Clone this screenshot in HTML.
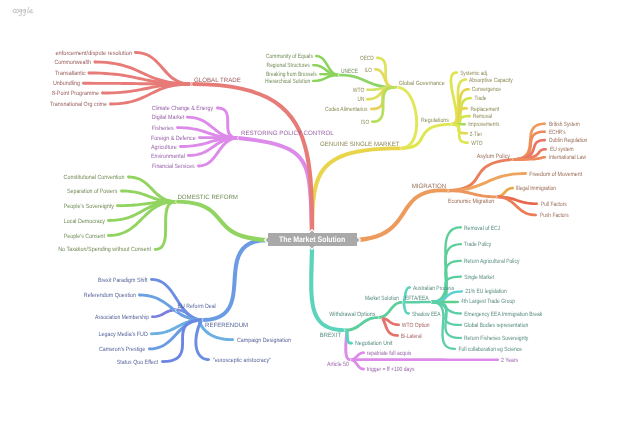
<!DOCTYPE html>
<html><head><meta charset="utf-8"><style>
html,body{margin:0;padding:0;background:#fff;width:640px;height:424px;overflow:hidden}
svg{position:absolute;left:0;top:0;will-change:transform}
text{font-family:"Liberation Sans",sans-serif} g text{text-rendering:geometricPrecision;fill-opacity:0.88}
</style></head><body>
<svg width="640" height="424" viewBox="0 0 640 424">
<path d="M15.6,9.6 C14.6,8.9 13,9.4 13,11 C13,12.6 14.6,13.2 15.8,12.4 M17.6,9.2 C16.2,9.2 15.9,10.6 16,11.6 C16.2,13.2 18.2,13.1 18.5,11.6 C18.8,10.2 18.2,9.2 17.6,9.2 M21.4,9.6 C20.4,9 19,9.6 19.1,10.9 C19.2,12.2 20.8,12.2 21.3,11.2 L21.6,9.4 L21.2,14.6 C21,16.2 19,16.2 18.9,15 M25.2,9.6 C24.2,9 22.8,9.6 22.9,10.9 C23,12.2 24.6,12.2 25.1,11.2 L25.4,9.4 L25,14.6 C24.8,16.2 22.8,16.2 22.7,15 M28.8,7.2 C28.2,9 27.4,11.5 27.6,12.6 C27.8,13.2 28.6,13.1 29.2,12.5 M29.6,11.6 C31,11.6 32.6,10.8 32.2,9.8 C31.8,9 30,9.6 29.8,11.2 C29.6,12.8 31.4,13.4 33,12.4" fill="none" stroke="#b4b4b4" stroke-width="0.75" stroke-linecap="round" stroke-linejoin="round"/>
<path d="M190.0,82.5L186.9,82.3L184.0,81.9L181.4,81.2L179.0,80.3L176.7,79.1L174.7,77.8L172.7,76.4L170.8,74.7L169.0,73.0L167.2,71.1L165.5,69.2L163.8,67.3L162.1,65.3L160.3,63.4L158.5,61.4L156.6,59.6L154.6,57.9L152.4,56.2L150.1,54.8L147.6,53.5L144.9,52.5L142.0,51.7L138.8,51.3L135.4,51.1L135.4,53.9L138.5,54.1L141.4,54.5L144.0,55.2L146.4,56.1L148.7,57.3L150.8,58.6L152.8,60.1L154.6,61.7L156.4,63.5L158.2,65.3L159.9,67.3L161.6,69.2L163.3,71.2L165.0,73.2L166.9,75.1L168.8,76.9L170.8,78.7L172.9,80.3L175.2,81.8L177.8,83.1L180.5,84.1L183.4,84.9L186.6,85.4L190.0,85.5Z" fill="#e67b78"/><circle cx="135.4" cy="52.5" r="1.40" fill="#e67b78"/>
<path d="M190.0,82.5L184.4,82.3L179.2,82.0L174.4,81.5L170.0,80.9L165.9,80.1L162.2,79.1L158.6,78.0L155.3,76.9L152.1,75.7L149.0,74.4L146.0,73.0L143.1,71.7L140.1,70.3L137.0,68.9L133.9,67.6L130.6,66.3L127.2,65.2L123.5,64.1L119.6,63.1L115.4,62.2L110.9,61.5L106.0,61.0L100.7,60.7L94.9,60.6L94.9,63.4L100.5,63.5L105.7,63.8L110.5,64.4L114.9,65.0L119.0,65.9L122.7,66.8L126.3,67.9L129.6,69.1L132.8,70.3L135.9,71.6L138.9,73.0L141.8,74.3L144.8,75.7L147.9,77.1L151.0,78.4L154.3,79.7L157.7,80.9L161.4,82.0L165.3,83.0L169.5,83.9L174.0,84.6L178.9,85.1L184.2,85.4L190.0,85.5Z" fill="#e67b78"/><circle cx="94.9" cy="62.0" r="1.40" fill="#e67b78"/>
<path d="M190.0,82.5L184.0,82.4L178.4,82.2L173.3,82.0L168.6,81.7L164.2,81.3L160.2,80.8L156.4,80.2L152.8,79.7L149.4,79.1L146.1,78.4L142.9,77.7L139.8,77.1L136.6,76.4L133.4,75.7L130.0,75.1L126.6,74.4L123.0,73.8L119.1,73.3L115.0,72.8L110.5,72.4L105.8,72.1L100.6,71.8L95.0,71.6L88.9,71.6L88.9,74.4L94.9,74.5L100.5,74.6L105.6,74.9L110.3,75.2L114.7,75.7L118.7,76.1L122.5,76.7L126.1,77.3L129.5,77.9L132.8,78.6L136.0,79.3L139.1,79.9L142.3,80.6L145.5,81.3L148.8,82.0L152.3,82.6L155.9,83.2L159.8,83.8L163.9,84.3L168.3,84.7L173.1,85.1L178.3,85.3L183.9,85.5L190.0,85.5Z" fill="#e67b78"/><circle cx="88.9" cy="73.0" r="1.40" fill="#e67b78"/>
<path d="M190.0,82.5L183.6,82.5L177.7,82.4L172.3,82.4L167.3,82.4L162.7,82.4L158.4,82.4L154.3,82.3L150.5,82.3L146.9,82.3L143.4,82.2L140.1,82.2L136.7,82.2L133.4,82.1L130.0,82.1L126.5,82.0L122.9,82.0L119.1,82.0L115.1,81.9L110.7,81.9L106.1,81.9L101.1,81.9L95.7,81.9L89.8,81.8L83.4,81.8L83.4,84.7L89.8,84.7L95.7,84.7L101.1,84.7L106.1,84.7L110.7,84.8L115.0,84.8L119.1,84.8L122.9,84.9L126.5,84.9L130.0,85.0L133.3,85.0L136.7,85.1L140.0,85.2L143.4,85.2L146.9,85.3L150.5,85.3L154.3,85.4L158.3,85.4L162.7,85.4L167.3,85.5L172.3,85.5L177.7,85.5L183.6,85.5L190.0,85.5Z" fill="#e67b78"/><circle cx="83.4" cy="83.2" r="1.40" fill="#e67b78"/>
<path d="M190.0,82.5L184.7,82.5L179.9,82.6L175.4,82.9L171.2,83.1L167.4,83.5L163.8,83.9L160.5,84.4L157.3,84.9L154.3,85.4L151.4,85.9L148.6,86.5L145.9,87.1L143.2,87.6L140.4,88.2L137.6,88.7L134.6,89.2L131.5,89.7L128.2,90.2L124.7,90.6L120.9,90.9L116.9,91.2L112.4,91.4L107.6,91.5L102.4,91.6L102.4,94.4L107.7,94.4L112.5,94.2L117.0,94.0L121.2,93.8L125.0,93.4L128.6,93.0L131.9,92.6L135.1,92.1L138.1,91.6L141.0,91.1L143.7,90.5L146.5,89.9L149.2,89.4L152.0,88.8L154.9,88.3L157.8,87.8L160.9,87.3L164.2,86.9L167.7,86.5L171.5,86.2L175.5,85.9L180.0,85.7L184.8,85.6L190.0,85.5Z" fill="#e67b78"/><circle cx="102.4" cy="93.0" r="1.40" fill="#e67b78"/>
<path d="M190.0,82.5L185.2,82.6L180.7,82.9L176.6,83.3L172.8,84.0L169.2,84.8L165.9,85.7L162.9,86.7L160.0,87.8L157.2,89.0L154.6,90.2L152.0,91.4L149.5,92.7L147.1,93.9L144.6,95.2L142.0,96.3L139.3,97.5L136.6,98.5L133.6,99.5L130.5,100.4L127.1,101.1L123.4,101.7L119.4,102.2L115.1,102.5L110.4,102.6L110.4,105.4L115.2,105.3L119.7,105.0L123.8,104.5L127.6,103.9L131.2,103.1L134.4,102.3L137.5,101.2L140.4,100.2L143.2,99.0L145.8,97.8L148.4,96.6L150.9,95.3L153.4,94.1L155.9,92.9L158.4,91.7L161.1,90.6L163.9,89.5L166.8,88.6L170.0,87.7L173.3,87.0L177.0,86.4L181.0,85.9L185.3,85.6L190.0,85.5Z" fill="#e67b78"/><circle cx="110.4" cy="104.0" r="1.40" fill="#e67b78"/>
<path d="M238.0,136.4L235.8,136.3L234.1,135.9L232.8,135.4L231.8,134.6L231.0,133.8L230.4,132.7L229.9,131.4L229.6,130.0L229.3,128.4L229.2,126.7L229.2,124.9L229.2,123.0L229.2,121.1L229.1,119.2L229.0,117.4L228.7,115.5L228.3,113.8L227.7,112.1L226.8,110.5L225.6,109.2L224.1,108.1L222.2,107.2L220.0,106.8L217.4,106.6L217.4,109.4L219.6,109.5L221.3,109.9L222.7,110.5L223.7,111.3L224.5,112.2L225.1,113.3L225.6,114.6L225.9,116.0L226.1,117.6L226.2,119.3L226.2,121.1L226.2,123.0L226.2,124.9L226.3,126.8L226.4,128.6L226.6,130.5L227.0,132.3L227.6,133.9L228.5,135.5L229.7,136.9L231.3,138.0L233.2,138.9L235.4,139.4L238.0,139.6Z" fill="#dc8be9"/><circle cx="217.4" cy="108.0" r="1.40" fill="#dc8be9"/>
<path d="M238.0,136.4L235.1,136.4L232.4,136.1L229.9,135.6L227.7,135.0L225.6,134.3L223.6,133.4L221.8,132.4L220.1,131.4L218.4,130.2L216.8,129.0L215.2,127.7L213.6,126.5L212.0,125.2L210.4,123.9L208.7,122.6L206.9,121.4L205.1,120.2L203.1,119.2L200.9,118.2L198.6,117.4L196.1,116.7L193.4,116.2L190.5,115.9L187.4,115.8L187.4,118.6L190.3,118.7L193.0,119.0L195.5,119.5L197.7,120.1L199.8,120.9L201.8,121.7L203.6,122.7L205.3,123.8L207.0,125.0L208.6,126.2L210.2,127.4L211.8,128.7L213.4,130.0L215.0,131.4L216.7,132.6L218.4,133.9L220.3,135.0L222.3,136.1L224.5,137.1L226.8,137.9L229.3,138.6L231.9,139.1L234.9,139.4L238.0,139.6Z" fill="#dc8be9"/><circle cx="187.4" cy="117.2" r="1.40" fill="#dc8be9"/>
<path d="M238.0,136.4L234.4,136.4L231.1,136.3L228.1,136.0L225.3,135.7L222.7,135.3L220.3,134.9L218.1,134.4L216.0,133.9L213.9,133.3L212.0,132.7L210.1,132.0L208.2,131.4L206.3,130.8L204.3,130.1L202.3,129.5L200.2,128.9L198.0,128.3L195.7,127.8L193.2,127.4L190.5,127.0L187.6,126.6L184.5,126.4L181.1,126.2L177.4,126.2L177.4,129.0L181.0,129.1L184.3,129.2L187.3,129.5L190.1,129.8L192.7,130.2L195.1,130.6L197.3,131.1L199.5,131.7L201.5,132.3L203.4,132.9L205.3,133.5L207.2,134.2L209.1,134.9L211.1,135.5L213.1,136.1L215.2,136.8L217.4,137.3L219.7,137.9L222.2,138.3L224.9,138.7L227.8,139.1L230.9,139.3L234.3,139.5L238.0,139.6Z" fill="#dc8be9"/><circle cx="177.4" cy="127.6" r="1.40" fill="#dc8be9"/>
<path d="M238.0,136.4L235.7,136.5L233.6,136.5L231.6,136.5L229.8,136.4L228.1,136.4L226.6,136.4L225.1,136.4L223.7,136.4L222.4,136.4L221.2,136.4L219.9,136.3L218.7,136.3L217.5,136.3L216.3,136.3L215.0,136.3L213.7,136.3L212.3,136.2L210.9,136.2L209.3,136.2L207.6,136.2L205.8,136.2L203.9,136.2L201.7,136.2L199.4,136.2L199.4,139.0L201.7,139.0L203.8,139.0L205.8,139.0L207.6,139.1L209.3,139.1L210.8,139.1L212.3,139.1L213.7,139.2L215.0,139.2L216.2,139.2L217.5,139.2L218.7,139.3L219.9,139.3L221.1,139.3L222.4,139.4L223.7,139.4L225.1,139.4L226.5,139.4L228.1,139.5L229.8,139.5L231.6,139.5L233.5,139.5L235.7,139.5L238.0,139.6Z" fill="#dc8be9"/><circle cx="199.4" cy="137.6" r="1.40" fill="#dc8be9"/>
<path d="M238.0,136.4L234.5,136.5L231.3,136.6L228.3,136.8L225.6,137.1L223.0,137.5L220.6,137.8L218.4,138.3L216.3,138.7L214.3,139.2L212.4,139.8L210.6,140.3L208.8,140.8L207.0,141.4L205.2,141.9L203.3,142.4L201.4,142.9L199.4,143.3L197.2,143.8L195.0,144.1L192.5,144.5L189.8,144.7L187.0,144.9L183.8,145.1L180.4,145.1L180.4,147.9L183.9,147.9L187.1,147.7L190.1,147.5L192.8,147.3L195.4,147.0L197.8,146.6L200.0,146.2L202.1,145.7L204.1,145.2L206.0,144.7L207.8,144.2L209.6,143.7L211.4,143.1L213.2,142.6L215.1,142.1L217.0,141.7L219.0,141.2L221.2,140.8L223.4,140.5L225.9,140.1L228.6,139.9L231.4,139.7L234.6,139.6L238.0,139.6Z" fill="#dc8be9"/><circle cx="180.4" cy="146.5" r="1.40" fill="#dc8be9"/>
<path d="M238.0,136.4L234.9,136.5L232.1,136.8L229.5,137.2L227.0,137.8L224.8,138.5L222.7,139.3L220.7,140.2L218.9,141.2L217.2,142.3L215.5,143.3L213.9,144.4L212.3,145.5L210.8,146.6L209.3,147.7L207.7,148.7L206.1,149.7L204.4,150.6L202.6,151.4L200.6,152.2L198.6,152.8L196.4,153.4L193.9,153.8L191.3,154.0L188.4,154.1L188.4,156.9L191.5,156.8L194.3,156.6L196.9,156.1L199.3,155.6L201.6,154.9L203.7,154.1L205.6,153.2L207.5,152.2L209.2,151.2L210.9,150.1L212.5,149.0L214.1,148.0L215.6,146.9L217.2,145.8L218.7,144.8L220.4,143.8L222.1,142.9L223.9,142.1L225.8,141.4L227.8,140.8L230.1,140.3L232.5,139.9L235.1,139.6L238.0,139.6Z" fill="#dc8be9"/><circle cx="188.4" cy="155.5" r="1.40" fill="#dc8be9"/>
<path d="M238.0,136.4L235.4,136.6L233.1,137.1L230.9,137.8L228.8,138.7L227.0,139.9L225.3,141.2L223.7,142.7L222.2,144.3L220.8,145.9L219.5,147.6L218.2,149.4L217.0,151.1L215.8,152.9L214.5,154.6L213.3,156.2L212.0,157.8L210.6,159.2L209.2,160.5L207.7,161.7L206.2,162.7L204.5,163.5L202.6,164.1L200.6,164.5L198.4,164.6L198.4,167.4L200.9,167.3L203.3,166.8L205.5,166.1L207.5,165.2L209.4,164.0L211.1,162.7L212.7,161.3L214.2,159.7L215.5,158.1L216.9,156.3L218.2,154.6L219.4,152.9L220.6,151.1L221.9,149.4L223.2,147.8L224.5,146.3L225.8,144.8L227.2,143.5L228.7,142.4L230.3,141.4L232.0,140.6L233.8,140.0L235.8,139.7L238.0,139.6Z" fill="#dc8be9"/><circle cx="198.4" cy="166.0" r="1.40" fill="#dc8be9"/>
<path d="M176.0,200.0L173.3,199.9L170.8,199.6L168.5,199.1L166.4,198.4L164.5,197.5L162.7,196.5L161.0,195.3L159.3,194.1L157.8,192.7L156.2,191.3L154.7,189.8L153.3,188.3L151.8,186.7L150.2,185.2L148.6,183.7L147.0,182.3L145.2,180.9L143.3,179.6L141.3,178.5L139.1,177.5L136.7,176.7L134.1,176.1L131.4,175.7L128.4,175.6L128.4,178.4L131.1,178.5L133.6,178.9L135.9,179.4L138.0,180.1L140.0,181.0L141.8,182.1L143.5,183.2L145.1,184.5L146.7,185.9L148.2,187.3L149.7,188.8L151.1,190.3L152.6,191.9L154.2,193.4L155.7,194.9L157.4,196.4L159.2,197.8L161.1,199.0L163.1,200.2L165.3,201.2L167.7,202.0L170.2,202.6L173.0,203.0L176.0,203.2Z" fill="#92d461"/><circle cx="128.4" cy="177.0" r="1.40" fill="#92d461"/>
<path d="M176.0,200.0L172.8,200.0L169.8,199.9L167.1,199.6L164.6,199.3L162.3,198.9L160.1,198.5L158.1,198.0L156.2,197.4L154.4,196.8L152.7,196.2L150.9,195.6L149.2,194.9L147.5,194.3L145.8,193.6L143.9,193.0L142.1,192.4L140.1,191.8L137.9,191.3L135.7,190.8L133.2,190.4L130.6,190.0L127.8,189.8L124.7,189.6L121.4,189.6L121.4,192.4L124.6,192.5L127.6,192.6L130.3,192.9L132.8,193.2L135.1,193.6L137.3,194.1L139.3,194.6L141.2,195.1L143.0,195.7L144.8,196.4L146.5,197.0L148.2,197.7L149.9,198.3L151.6,199.0L153.4,199.7L155.3,200.3L157.3,200.9L159.4,201.4L161.7,201.9L164.1,202.3L166.8,202.7L169.6,202.9L172.7,203.1L176.0,203.2Z" fill="#92d461"/><circle cx="121.4" cy="191.0" r="1.40" fill="#92d461"/>
<path d="M176.0,200.0L172.5,200.1L169.2,200.1L166.2,200.2L163.4,200.4L160.9,200.5L158.5,200.7L156.2,200.9L154.1,201.2L152.1,201.4L150.2,201.7L148.3,201.9L146.5,202.2L144.7,202.5L142.8,202.7L140.9,203.0L138.9,203.2L136.9,203.4L134.7,203.6L132.3,203.8L129.8,204.0L127.1,204.1L124.1,204.2L120.9,204.3L117.4,204.3L117.4,207.1L120.9,207.1L124.2,207.0L127.2,206.9L130.0,206.8L132.5,206.7L134.9,206.5L137.2,206.3L139.3,206.1L141.3,205.8L143.2,205.6L145.1,205.4L146.9,205.1L148.7,204.9L150.6,204.6L152.5,204.4L154.5,204.2L156.5,203.9L158.7,203.7L161.1,203.6L163.6,203.4L166.3,203.3L169.3,203.2L172.5,203.2L176.0,203.2Z" fill="#92d461"/><circle cx="117.4" cy="205.7" r="1.40" fill="#92d461"/>
<path d="M176.0,200.0L171.9,200.2L168.1,200.4L164.5,200.9L161.3,201.5L158.3,202.3L155.5,203.1L152.8,204.1L150.4,205.1L148.0,206.2L145.8,207.4L143.6,208.6L141.5,209.8L139.4,210.9L137.3,212.1L135.1,213.2L132.8,214.3L130.5,215.3L128.0,216.2L125.4,217.0L122.5,217.7L119.4,218.3L116.0,218.7L112.4,219.0L108.4,219.1L108.4,221.9L112.5,221.8L116.3,221.5L119.8,221.1L123.1,220.5L126.1,219.8L128.9,218.9L131.6,218.0L134.0,216.9L136.4,215.8L138.6,214.7L140.8,213.5L142.9,212.3L145.0,211.2L147.2,210.0L149.3,208.9L151.6,207.9L153.9,206.9L156.4,206.0L159.1,205.2L161.9,204.5L165.0,203.9L168.4,203.5L172.0,203.2L176.0,203.2Z" fill="#92d461"/><circle cx="108.4" cy="220.5" r="1.40" fill="#92d461"/>
<path d="M176.0,200.0L171.8,200.2L167.9,200.8L164.4,201.6L161.1,202.7L158.0,204.0L155.2,205.6L152.5,207.3L150.0,209.2L147.7,211.2L145.4,213.3L143.3,215.4L141.2,217.5L139.0,219.6L136.9,221.7L134.8,223.7L132.5,225.6L130.2,227.4L127.7,229.0L125.1,230.4L122.3,231.7L119.2,232.7L115.9,233.4L112.3,233.9L108.4,234.1L108.4,236.9L112.6,236.7L116.4,236.2L120.0,235.4L123.3,234.3L126.4,233.0L129.2,231.4L131.9,229.7L134.3,227.8L136.7,225.9L138.9,223.8L141.1,221.7L143.2,219.6L145.4,217.5L147.5,215.4L149.7,213.4L151.9,211.6L154.2,209.8L156.7,208.2L159.3,206.8L162.2,205.5L165.2,204.5L168.5,203.8L172.1,203.3L176.0,203.2Z" fill="#92d461"/><circle cx="108.4" cy="235.5" r="1.40" fill="#92d461"/>
<path d="M176.0,200.0L173.3,200.3L170.9,201.2L169.0,202.5L167.4,204.3L166.3,206.3L165.4,208.6L164.9,211.2L164.5,213.8L164.3,216.6L164.2,219.5L164.1,222.5L164.1,225.5L164.1,228.5L164.1,231.4L164.0,234.2L163.8,236.9L163.4,239.3L162.9,241.5L162.2,243.5L161.3,245.0L160.3,246.3L158.9,247.2L157.3,247.8L155.2,248.0L155.2,250.8L157.9,250.5L160.2,249.7L162.2,248.4L163.7,246.7L164.8,244.6L165.7,242.3L166.3,239.8L166.7,237.2L166.9,234.4L167.0,231.5L167.1,228.5L167.1,225.5L167.1,222.5L167.1,219.6L167.3,216.8L167.5,214.2L167.8,211.7L168.4,209.5L169.0,207.6L169.9,206.0L171.0,204.8L172.3,203.9L173.9,203.4L176.0,203.2Z" fill="#92d461"/><circle cx="155.2" cy="249.4" r="1.40" fill="#92d461"/>
<path d="M202.7,318.4L201.2,318.4L199.8,318.3L198.6,318.1L197.4,317.8L196.4,317.5L195.4,317.1L194.5,316.6L193.6,316.1L192.7,315.6L191.9,315.0L191.1,314.4L190.2,313.8L189.4,313.2L188.5,312.6L187.6,311.9L186.6,311.3L185.6,310.8L184.5,310.3L183.3,309.8L182.1,309.4L180.7,309.0L179.3,308.8L177.7,308.6L176.0,308.6L176.0,311.4L177.5,311.5L178.9,311.6L180.1,311.8L181.3,312.1L182.4,312.5L183.3,312.9L184.3,313.3L185.1,313.8L186.0,314.4L186.8,315.0L187.6,315.6L188.5,316.2L189.3,316.8L190.2,317.5L191.1,318.1L192.0,318.7L193.1,319.3L194.2,319.8L195.3,320.3L196.6,320.7L198.0,321.1L199.4,321.3L201.0,321.5L202.7,321.6Z" fill="#7a92e0"/><circle cx="176.0" cy="310.0" r="1.40" fill="#7a92e0"/>
<path d="M176.0,308.6L174.5,308.6L173.1,308.7L171.8,308.9L170.6,309.1L169.5,309.4L168.5,309.7L167.5,310.1L166.6,310.5L165.8,310.9L165.0,311.3L164.2,311.8L163.5,312.2L162.7,312.6L162.0,313.0L161.3,313.4L160.5,313.8L159.7,314.2L158.9,314.5L158.0,314.8L157.1,315.0L156.0,315.2L154.9,315.4L153.7,315.5L152.3,315.5L152.3,318.1L153.8,318.1L155.2,318.0L156.4,317.8L157.6,317.6L158.7,317.3L159.8,317.0L160.7,316.6L161.6,316.3L162.5,315.9L163.3,315.4L164.1,315.0L164.8,314.6L165.6,314.2L166.3,313.8L167.0,313.4L167.8,313.0L168.6,312.7L169.4,312.4L170.3,312.1L171.3,311.9L172.3,311.7L173.4,311.6L174.7,311.5L176.0,311.4Z" fill="#7b7fdc"/><circle cx="152.3" cy="316.8" r="1.30" fill="#7b7fdc"/>
<path d="M202.7,318.4L199.8,318.3L197.2,317.7L194.8,316.9L192.6,315.7L190.5,314.2L188.5,312.6L186.7,310.6L184.9,308.5L183.2,306.3L181.5,303.9L179.9,301.4L178.3,298.9L176.7,296.4L175.0,293.9L173.3,291.4L171.5,289.0L169.6,286.8L167.6,284.7L165.4,282.8L163.1,281.2L160.5,279.8L157.7,278.8L154.7,278.2L151.4,278.0L151.4,280.8L154.3,281.0L156.9,281.6L159.3,282.4L161.6,283.6L163.7,285.1L165.6,286.8L167.5,288.7L169.3,290.8L171.0,293.1L172.6,295.5L174.2,298.0L175.8,300.5L177.4,303.0L179.0,305.6L180.7,308.0L182.5,310.4L184.4,312.7L186.4,314.8L188.6,316.6L191.0,318.3L193.6,319.7L196.4,320.7L199.4,321.3L202.7,321.6Z" fill="#6b8ee3"/><circle cx="151.4" cy="279.4" r="1.40" fill="#6b8ee3"/>
<path d="M202.7,318.4L199.0,318.3L195.6,318.0L192.5,317.4L189.7,316.7L187.0,315.8L184.6,314.7L182.2,313.5L180.1,312.3L178.0,310.9L175.9,309.4L173.9,307.9L172.0,306.3L170.0,304.8L167.9,303.2L165.8,301.7L163.6,300.3L161.3,298.9L158.8,297.6L156.2,296.5L153.3,295.5L150.2,294.7L146.9,294.1L143.3,293.7L139.4,293.6L139.4,296.4L143.1,296.5L146.5,296.9L149.6,297.5L152.5,298.2L155.1,299.1L157.6,300.2L159.9,301.4L162.1,302.7L164.2,304.1L166.2,305.6L168.2,307.1L170.1,308.7L172.1,310.2L174.2,311.8L176.3,313.3L178.5,314.8L180.8,316.2L183.3,317.5L185.9,318.6L188.8,319.6L191.9,320.4L195.2,321.0L198.8,321.4L202.7,321.6Z" fill="#6ba0e3"/><circle cx="139.4" cy="295.0" r="1.40" fill="#6ba0e3"/>
<path d="M202.7,318.4L199.6,318.5L196.6,318.7L194.0,319.1L191.5,319.5L189.2,320.1L187.0,320.7L185.0,321.4L183.1,322.2L181.3,323.0L179.6,323.9L178.0,324.7L176.4,325.6L174.8,326.5L173.2,327.3L171.5,328.1L169.8,328.9L168.1,329.6L166.2,330.3L164.2,330.9L162.0,331.4L159.7,331.8L157.2,332.1L154.4,332.3L151.4,332.4L151.4,335.2L154.5,335.1L157.4,334.9L160.1,334.6L162.6,334.2L164.9,333.6L167.1,333.0L169.1,332.3L171.0,331.6L172.8,330.7L174.5,329.9L176.1,329.1L177.7,328.2L179.4,327.3L181.0,326.5L182.6,325.7L184.3,325.0L186.1,324.2L187.9,323.6L189.9,323.0L192.1,322.5L194.4,322.1L196.9,321.8L199.7,321.6L202.7,321.6Z" fill="#6bb0e3"/><circle cx="151.4" cy="333.8" r="1.40" fill="#6bb0e3"/>
<path d="M202.7,318.4L199.4,318.6L196.3,319.1L193.4,319.8L190.8,320.7L188.3,321.9L186.1,323.2L183.9,324.7L182.0,326.4L180.1,328.1L178.3,329.8L176.6,331.6L175.0,333.5L173.3,335.2L171.6,337.0L169.9,338.7L168.2,340.3L166.4,341.8L164.4,343.2L162.4,344.4L160.2,345.4L157.8,346.3L155.3,346.9L152.5,347.4L149.4,347.5L149.4,350.3L152.7,350.2L155.8,349.7L158.7,349.0L161.3,348.1L163.7,346.9L166.0,345.6L168.1,344.1L170.1,342.5L172.0,340.8L173.7,339.0L175.5,337.3L177.1,335.4L178.8,333.7L180.5,331.9L182.2,330.2L183.9,328.6L185.8,327.1L187.7,325.8L189.7,324.6L191.9,323.5L194.3,322.7L196.9,322.1L199.6,321.7L202.7,321.6Z" fill="#6b9be3"/><circle cx="149.4" cy="348.9" r="1.40" fill="#6b9be3"/>
<path d="M202.7,318.4L197.9,318.7L193.9,319.3L190.5,320.4L187.7,321.8L185.5,323.6L183.8,325.7L182.6,328.0L181.8,330.4L181.4,333.0L181.2,335.6L181.1,338.2L181.1,340.8L181.1,343.4L181.0,345.9L180.8,348.3L180.4,350.5L179.8,352.5L178.8,354.3L177.5,355.9L175.8,357.3L173.5,358.5L170.6,359.4L166.9,360.0L162.4,360.2L162.4,363.0L167.2,362.8L171.2,362.2L174.6,361.1L177.4,359.7L179.6,357.9L181.2,355.9L182.4,353.6L183.2,351.2L183.7,348.6L183.9,346.0L184.0,343.4L184.0,340.8L184.0,338.2L184.1,335.7L184.3,333.4L184.8,331.1L185.4,329.1L186.3,327.3L187.6,325.7L189.3,324.4L191.6,323.2L194.6,322.3L198.2,321.7L202.7,321.6Z" fill="#6b85e3"/><circle cx="162.4" cy="361.6" r="1.40" fill="#6b85e3"/>
<path d="M197.6,321.6L198.1,322.9L198.7,324.2L199.4,325.4L200.2,326.7L201.0,327.9L201.8,329.1L202.8,330.2L203.8,331.3L204.9,332.4L206.1,333.4L207.4,334.4L208.8,335.3L210.2,336.2L211.8,337.0L213.4,337.8L215.1,338.4L216.9,339.0L218.9,339.6L220.9,340.0L223.0,340.4L225.2,340.7L227.6,340.9L230.0,341.1L232.6,341.1L232.6,338.3L230.1,338.2L227.8,338.1L225.6,337.9L223.5,337.6L221.5,337.2L219.6,336.8L217.8,336.3L216.1,335.7L214.5,335.1L213.1,334.4L211.7,333.7L210.4,332.9L209.2,332.0L208.0,331.1L207.0,330.2L206.0,329.2L205.1,328.2L204.2,327.2L203.5,326.1L202.7,325.0L202.1,323.9L201.5,322.8L200.9,321.6L200.4,320.4Z" fill="#6bb0e3"/><circle cx="232.6" cy="339.7" r="1.40" fill="#6bb0e3"/>
<path d="M199.6,320.3L198.5,322.8L197.6,325.2L196.7,327.6L196.0,330.1L195.4,332.4L195.0,334.8L194.7,337.1L194.5,339.4L194.4,341.5L194.4,343.7L194.6,345.7L194.9,347.7L195.3,349.6L195.8,351.3L196.5,353.0L197.3,354.6L198.3,356.0L199.4,357.2L200.6,358.3L202.0,359.3L203.5,360.0L205.1,360.6L206.8,360.9L208.6,361.0L208.6,358.2L207.1,358.1L205.8,357.8L204.5,357.4L203.4,356.8L202.4,356.1L201.4,355.2L200.6,354.2L199.8,353.1L199.2,351.8L198.6,350.4L198.1,348.8L197.8,347.2L197.5,345.4L197.4,343.5L197.4,341.6L197.4,339.6L197.6,337.5L198.0,335.3L198.4,333.1L199.0,330.9L199.6,328.6L200.4,326.3L201.4,324.0L202.4,321.7Z" fill="#6b8ee3"/><circle cx="208.6" cy="359.6" r="1.40" fill="#6b8ee3"/>
<path d="M401.0,149.8L404.2,149.5L407.1,148.4L409.7,146.8L411.9,144.7L413.7,142.2L415.2,139.4L416.3,136.2L417.2,132.9L417.8,129.3L418.1,125.6L418.2,121.8L418.0,117.9L417.5,114.1L416.8,110.3L415.9,106.6L414.8,103.0L413.4,99.6L411.8,96.5L410.0,93.6L407.9,91.1L405.7,89.0L403.2,87.4L400.4,86.3L397.5,85.8L397.3,88.6L399.6,89.0L401.8,89.9L403.9,91.3L405.9,93.1L407.7,95.3L409.3,97.9L410.8,100.8L412.0,104.0L413.1,107.3L414.0,110.9L414.6,114.5L415.0,118.2L415.2,121.8L415.1,125.4L414.8,128.9L414.3,132.2L413.5,135.3L412.4,138.1L411.1,140.6L409.6,142.7L407.8,144.4L405.8,145.7L403.5,146.4L401.0,146.8Z" fill="#e0e85a"/><circle cx="397.4" cy="87.2" r="1.40" fill="#e0e85a"/>
<path d="M401.0,149.9L404.9,149.7L408.2,149.3L411.1,148.8L413.6,147.9L415.8,146.9L417.6,145.8L419.1,144.4L420.4,143.0L421.5,141.5L422.4,140.0L423.2,138.5L424.0,137.0L424.9,135.6L425.8,134.2L426.8,132.8L428.1,131.6L429.5,130.4L431.3,129.3L433.4,128.3L435.9,127.4L439.0,126.7L442.5,126.2L446.7,125.8L451.5,125.7L451.5,122.9L446.5,123.0L442.2,123.4L438.4,123.9L435.1,124.7L432.3,125.7L429.9,126.8L427.8,128.1L426.1,129.5L424.6,130.9L423.4,132.5L422.4,134.0L421.5,135.6L420.6,137.1L419.8,138.5L419.0,139.9L418.1,141.1L417.0,142.3L415.8,143.3L414.3,144.3L412.5,145.1L410.4,145.8L407.8,146.3L404.7,146.6L401.0,146.8Z" fill="#dfe64e"/><circle cx="451.5" cy="124.3" r="1.40" fill="#dfe64e"/>
<path d="M397.3,85.7L397.1,85.7L396.9,85.7L396.8,85.7L396.6,85.8L396.5,85.8L396.3,85.8L396.2,85.8L396.0,85.8L395.9,85.8L395.7,85.8L395.6,85.8L395.4,85.8L395.3,85.8L395.2,85.9L395.1,85.9L394.9,85.9L394.8,85.9L394.7,85.9L394.6,85.9L394.5,85.9L394.3,85.9L394.2,85.9L394.1,85.9L394.0,85.9L394.0,88.9L394.1,88.9L394.3,88.9L394.4,88.9L394.5,88.9L394.7,88.9L394.8,88.9L395.0,88.9L395.1,88.9L395.2,88.9L395.4,88.9L395.5,88.8L395.7,88.8L395.8,88.8L395.9,88.8L396.1,88.8L396.2,88.8L396.4,88.8L396.5,88.8L396.7,88.8L396.8,88.7L397.0,88.7L397.2,88.7L397.3,88.7L397.5,88.7Z" fill="#c8e060"/><circle cx="394.0" cy="87.4" r="1.50" fill="#c8e060"/>
<path d="M394.0,86.0L390.7,85.9L387.8,85.7L385.0,85.4L382.5,85.1L380.2,84.6L378.0,84.1L375.9,83.5L374.0,82.9L372.2,82.2L370.4,81.5L368.7,80.7L367.0,79.9L365.2,79.2L363.5,78.4L361.6,77.7L359.7,76.9L357.7,76.3L355.5,75.6L353.2,75.1L350.8,74.6L348.1,74.2L345.3,73.9L342.2,73.8L338.8,73.7L338.8,76.3L342.1,76.4L345.1,76.6L347.8,76.8L350.3,77.2L352.7,77.7L354.8,78.2L356.9,78.8L358.8,79.5L360.6,80.2L362.4,80.9L364.1,81.7L365.8,82.5L367.6,83.2L369.3,84.0L371.2,84.8L373.1,85.5L375.1,86.2L377.2,86.8L379.5,87.4L382.0,87.9L384.7,88.3L387.5,88.6L390.6,88.8L394.0,88.9Z" fill="#8dd466"/><circle cx="338.8" cy="75.0" r="1.30" fill="#8dd466"/>
<path d="M338.8,73.7L337.6,73.6L336.6,73.3L335.6,73.0L334.7,72.5L333.8,71.9L333.0,71.1L332.2,70.3L331.5,69.3L330.7,68.3L330.0,67.2L329.3,66.0L328.6,64.8L327.9,63.7L327.1,62.5L326.4,61.3L325.6,60.2L324.7,59.1L323.8,58.1L322.8,57.2L321.7,56.4L320.5,55.7L319.2,55.2L317.7,54.9L316.2,54.8L316.2,57.2L317.4,57.3L318.5,57.5L319.4,57.9L320.3,58.4L321.2,59.1L322.0,59.8L322.8,60.7L323.6,61.7L324.3,62.7L325.0,63.8L325.7,65.0L326.4,66.2L327.1,67.3L327.8,68.5L328.6,69.7L329.4,70.8L330.2,71.9L331.2,73.0L332.2,73.9L333.3,74.7L334.5,75.4L335.8,75.9L337.3,76.2L338.8,76.3Z" fill="#8cd35c"/><circle cx="316.2" cy="56.0" r="1.20" fill="#8cd35c"/>
<path d="M338.8,73.7L337.4,73.6L336.0,73.5L334.8,73.3L333.7,73.0L332.7,72.7L331.8,72.3L330.9,71.8L330.0,71.3L329.2,70.8L328.4,70.2L327.6,69.6L326.8,69.0L326.0,68.4L325.1,67.8L324.3,67.2L323.3,66.6L322.4,66.0L321.3,65.5L320.2,65.1L319.0,64.7L317.7,64.3L316.3,64.1L314.8,63.9L313.2,63.9L313.2,66.3L314.7,66.4L316.0,66.5L317.2,66.7L318.3,67.0L319.3,67.4L320.3,67.8L321.2,68.2L322.0,68.7L322.8,69.3L323.6,69.8L324.4,70.4L325.2,71.1L326.0,71.7L326.9,72.3L327.7,72.9L328.6,73.5L329.6,74.1L330.6,74.6L331.8,75.1L333.0,75.5L334.3,75.9L335.7,76.1L337.2,76.3L338.8,76.3Z" fill="#8cd35c"/><circle cx="313.2" cy="65.1" r="1.20" fill="#8cd35c"/>
<path d="M338.8,73.7L337.7,73.7L336.7,73.6L335.7,73.6L334.9,73.6L334.1,73.6L333.4,73.5L332.7,73.5L332.0,73.5L331.4,73.4L330.8,73.4L330.2,73.3L329.6,73.3L329.0,73.2L328.4,73.2L327.8,73.1L327.2,73.1L326.5,73.0L325.8,73.0L325.0,73.0L324.2,72.9L323.3,72.9L322.4,72.9L321.3,72.9L320.2,72.9L320.2,75.3L321.3,75.3L322.3,75.3L323.3,75.4L324.1,75.4L324.9,75.4L325.7,75.5L326.3,75.5L327.0,75.6L327.6,75.6L328.2,75.7L328.8,75.8L329.4,75.8L330.0,75.9L330.6,75.9L331.2,76.0L331.8,76.1L332.5,76.1L333.2,76.2L334.0,76.2L334.8,76.3L335.7,76.3L336.6,76.3L337.7,76.3L338.8,76.3Z" fill="#8cd35c"/><circle cx="320.2" cy="74.1" r="1.20" fill="#8cd35c"/>
<path d="M338.8,73.7L337.2,73.7L335.7,73.8L334.4,73.9L333.1,74.1L331.9,74.4L330.9,74.7L329.8,75.0L328.9,75.3L328.0,75.7L327.1,76.0L326.3,76.4L325.5,76.8L324.7,77.2L323.9,77.5L323.1,77.9L322.2,78.2L321.4,78.5L320.5,78.8L319.5,79.0L318.4,79.3L317.3,79.4L316.0,79.6L314.7,79.7L313.2,79.7L313.2,82.1L314.8,82.1L316.2,82.0L317.6,81.9L318.9,81.7L320.0,81.4L321.1,81.2L322.2,80.9L323.1,80.5L324.0,80.2L324.9,79.8L325.7,79.5L326.5,79.1L327.3,78.7L328.1,78.4L328.9,78.1L329.8,77.7L330.6,77.5L331.5,77.2L332.5,76.9L333.6,76.7L334.7,76.6L336.0,76.4L337.3,76.4L338.8,76.3Z" fill="#8cd35c"/><circle cx="313.2" cy="80.9" r="1.20" fill="#8cd35c"/>
<path d="M394.0,86.0L392.3,85.8L391.0,85.5L390.0,85.0L389.2,84.3L388.5,83.4L388.0,82.3L387.6,81.0L387.3,79.6L387.2,78.0L387.1,76.3L387.0,74.5L387.0,72.6L387.0,70.8L387.0,69.0L386.9,67.1L386.7,65.4L386.4,63.7L385.9,62.0L385.1,60.5L384.2,59.2L382.9,58.1L381.3,57.3L379.4,56.8L377.3,56.6L377.3,59.2L379.0,59.3L380.3,59.7L381.4,60.3L382.2,61.0L382.8,61.9L383.4,63.0L383.7,64.3L384.0,65.7L384.2,67.3L384.2,69.0L384.3,70.8L384.3,72.6L384.3,74.5L384.3,76.3L384.4,78.2L384.6,79.9L384.9,81.7L385.4,83.3L386.1,84.8L387.1,86.2L388.4,87.3L390.0,88.2L391.8,88.7L394.0,88.9Z" fill="#dfe35c"/><circle cx="377.3" cy="57.9" r="1.30" fill="#dfe35c"/>
<path d="M394.0,86.0L392.9,85.9L391.9,85.7L391.1,85.3L390.3,84.9L389.6,84.3L389.0,83.7L388.4,82.9L387.9,82.0L387.4,81.1L386.9,80.0L386.4,78.9L385.9,77.8L385.4,76.7L384.9,75.6L384.4,74.4L383.8,73.3L383.2,72.3L382.4,71.3L381.6,70.4L380.6,69.6L379.5,68.9L378.2,68.4L376.8,68.1L375.3,68.0L375.3,70.6L376.4,70.7L377.4,70.9L378.3,71.3L379.0,71.7L379.7,72.3L380.3,73.0L380.9,73.8L381.5,74.7L382.0,75.6L382.5,76.7L382.9,77.8L383.4,78.9L383.8,80.0L384.3,81.2L384.9,82.3L385.4,83.4L386.1,84.5L386.8,85.5L387.7,86.4L388.7,87.2L389.8,87.9L391.1,88.4L392.5,88.7L394.0,88.9Z" fill="#e4da5c"/><circle cx="375.3" cy="69.3" r="1.30" fill="#e4da5c"/>
<path d="M394.0,86.0L392.1,86.0L390.4,86.0L388.8,86.1L387.5,86.2L386.3,86.3L385.2,86.4L384.2,86.5L383.3,86.6L382.5,86.8L381.7,86.9L381.0,87.1L380.3,87.3L379.7,87.4L379.0,87.6L378.3,87.7L377.6,87.8L376.7,88.0L375.8,88.1L374.8,88.2L373.6,88.3L372.3,88.4L370.8,88.4L369.2,88.5L367.3,88.5L367.3,91.1L369.2,91.1L370.9,91.1L372.5,91.0L373.8,90.9L375.0,90.9L376.1,90.8L377.1,90.6L378.0,90.5L378.8,90.4L379.6,90.2L380.3,90.1L381.0,89.9L381.6,89.8L382.3,89.7L383.0,89.5L383.7,89.4L384.6,89.3L385.5,89.2L386.5,89.1L387.7,89.0L389.0,88.9L390.5,88.9L392.1,88.9L394.0,88.9Z" fill="#d4e46a"/><circle cx="367.3" cy="89.8" r="1.30" fill="#d4e46a"/>
<path d="M394.0,86.0L392.0,86.0L390.2,86.2L388.6,86.5L387.1,86.9L385.8,87.4L384.6,88.0L383.6,88.7L382.6,89.4L381.8,90.1L381.0,90.9L380.3,91.6L379.6,92.4L379.0,93.1L378.3,93.8L377.6,94.5L376.9,95.1L376.2,95.7L375.3,96.2L374.4,96.7L373.3,97.1L372.1,97.4L370.7,97.7L369.1,97.8L367.3,97.9L367.3,100.5L369.3,100.4L371.1,100.3L372.7,100.0L374.1,99.6L375.4,99.1L376.6,98.5L377.7,97.9L378.6,97.2L379.5,96.5L380.3,95.7L381.0,95.0L381.7,94.2L382.3,93.5L383.0,92.8L383.7,92.2L384.4,91.6L385.2,91.0L386.0,90.5L386.9,90.0L388.0,89.6L389.2,89.3L390.6,89.1L392.2,88.9L394.0,88.9Z" fill="#dde05c"/><circle cx="367.3" cy="99.2" r="1.30" fill="#dde05c"/>
<path d="M394.0,86.0L391.3,86.1L388.9,86.4L386.9,87.0L385.3,87.8L383.9,88.8L382.9,90.0L382.2,91.3L381.7,92.6L381.4,94.0L381.3,95.4L381.3,96.8L381.3,98.2L381.3,99.5L381.2,100.8L381.1,102.0L380.9,103.1L380.6,104.0L380.1,104.9L379.5,105.6L378.6,106.3L377.4,106.8L375.8,107.3L373.8,107.6L371.3,107.7L371.3,110.3L374.0,110.2L376.4,109.9L378.3,109.3L380.0,108.5L381.3,107.6L382.3,106.4L383.1,105.1L383.5,103.7L383.8,102.4L384.0,101.0L384.0,99.6L384.0,98.2L384.0,96.9L384.1,95.6L384.2,94.4L384.4,93.4L384.8,92.4L385.2,91.6L385.9,90.9L386.7,90.2L387.9,89.7L389.5,89.2L391.5,88.9L394.0,88.9Z" fill="#e6cf5a"/><circle cx="371.3" cy="109.0" r="1.30" fill="#e6cf5a"/>
<path d="M394.0,86.0L391.3,86.1L389.0,86.7L387.0,87.7L385.4,88.9L384.1,90.5L383.2,92.2L382.6,94.1L382.2,96.1L381.9,98.2L381.8,100.3L381.8,102.4L381.8,104.6L381.8,106.7L381.7,108.8L381.6,110.8L381.4,112.7L381.1,114.4L380.6,115.9L379.9,117.2L379.0,118.3L377.9,119.2L376.4,119.9L374.6,120.3L372.3,120.5L372.3,123.1L375.0,122.9L377.3,122.4L379.3,121.4L380.9,120.2L382.1,118.7L383.0,116.9L383.7,115.1L384.1,113.1L384.3,111.0L384.5,108.9L384.5,106.8L384.5,104.6L384.5,102.5L384.6,100.4L384.7,98.4L384.9,96.5L385.3,94.8L385.8,93.3L386.5,92.0L387.4,91.0L388.5,90.1L389.9,89.4L391.7,89.0L394.0,88.9Z" fill="#b6df5c"/><circle cx="372.3" cy="121.8" r="1.30" fill="#b6df5c"/>
<path d="M451.5,125.8L453.7,125.4L455.6,124.4L456.9,122.8L457.6,120.8L458.0,118.6L458.1,116.2L457.9,113.5L457.6,110.7L457.1,107.7L456.5,104.6L455.8,101.4L455.1,98.2L454.4,94.9L453.7,91.8L453.1,88.7L452.7,85.8L452.4,83.1L452.3,80.7L452.4,78.6L452.8,76.8L453.4,75.5L454.1,74.7L455.2,74.1L456.7,73.9L456.7,71.3L454.4,71.6L452.5,72.6L451.1,74.1L450.3,76.0L449.8,78.2L449.6,80.7L449.7,83.3L450.0,86.2L450.5,89.2L451.0,92.3L451.7,95.5L452.4,98.7L453.1,102.0L453.7,105.1L454.3,108.2L454.8,111.1L455.1,113.8L455.3,116.2L455.2,118.4L454.9,120.1L454.4,121.4L453.7,122.2L452.8,122.7L451.5,122.8Z" fill="#dfe44e"/><circle cx="456.7" cy="72.6" r="1.30" fill="#dfe44e"/>
<path d="M451.5,125.8L453.7,125.5L455.6,124.6L457.1,123.3L458.2,121.6L459.0,119.7L459.5,117.6L459.8,115.2L459.9,112.8L459.9,110.1L459.9,107.4L459.7,104.7L459.6,101.9L459.5,99.1L459.4,96.4L459.3,93.7L459.4,91.3L459.5,88.9L459.9,86.9L460.4,85.1L461.0,83.6L461.8,82.4L462.8,81.6L464.1,81.1L465.7,80.9L465.7,78.3L463.4,78.6L461.5,79.4L459.9,80.6L458.7,82.3L457.8,84.2L457.3,86.3L456.9,88.6L456.7,91.1L456.6,93.7L456.6,96.5L456.7,99.2L456.9,102.0L457.0,104.8L457.1,107.5L457.1,110.2L457.1,112.7L457.0,115.0L456.7,117.1L456.3,118.9L455.7,120.3L454.9,121.4L454.0,122.2L452.9,122.7L451.5,122.8Z" fill="#e0e24e"/><circle cx="465.7" cy="79.6" r="1.30" fill="#e0e24e"/>
<path d="M451.5,125.8L453.6,125.5L455.5,124.9L457.1,123.9L458.3,122.5L459.2,121.0L459.9,119.2L460.4,117.4L460.7,115.4L460.9,113.3L461.0,111.2L461.1,109.0L461.1,106.8L461.1,104.6L461.2,102.5L461.4,100.4L461.6,98.5L461.9,96.7L462.4,95.1L462.9,93.8L463.7,92.6L464.5,91.7L465.6,91.1L467.0,90.7L468.7,90.5L468.7,87.9L466.5,88.1L464.6,88.7L462.9,89.7L461.6,91.0L460.6,92.5L459.8,94.2L459.3,96.1L458.9,98.1L458.7,100.2L458.5,102.3L458.4,104.5L458.4,106.7L458.3,108.9L458.2,111.0L458.1,113.1L457.9,115.0L457.6,116.8L457.2,118.4L456.7,119.8L456.0,120.9L455.2,121.7L454.3,122.3L453.0,122.7L451.5,122.8Z" fill="#e6d44e"/><circle cx="468.7" cy="89.2" r="1.30" fill="#e6d44e"/>
<path d="M451.5,125.8L453.6,125.6L455.4,125.1L457.0,124.4L458.3,123.4L459.3,122.2L460.1,120.8L460.7,119.4L461.2,117.8L461.5,116.3L461.7,114.6L461.9,113.0L462.1,111.3L462.3,109.7L462.5,108.2L462.7,106.7L463.0,105.3L463.4,104.0L464.0,102.8L464.6,101.9L465.4,101.0L466.3,100.4L467.5,99.9L468.9,99.5L470.7,99.4L470.7,96.8L468.5,96.9L466.7,97.4L465.0,98.1L463.6,99.0L462.5,100.2L461.6,101.6L460.9,103.0L460.4,104.5L460.0,106.1L459.8,107.8L459.5,109.4L459.4,111.1L459.2,112.7L459.0,114.3L458.8,115.8L458.5,117.2L458.1,118.5L457.6,119.6L457.0,120.5L456.3,121.3L455.5,121.9L454.4,122.4L453.1,122.7L451.5,122.8Z" fill="#d4e44e"/><circle cx="470.7" cy="98.1" r="1.30" fill="#d4e44e"/>
<path d="M451.5,125.8L453.5,125.7L455.2,125.4L456.6,124.9L457.8,124.3L458.8,123.5L459.5,122.5L459.9,121.4L460.2,120.4L460.3,119.3L460.2,118.2L460.2,117.2L460.1,116.2L460.0,115.2L460.0,114.3L460.0,113.5L460.1,112.7L460.3,112.1L460.5,111.5L460.9,111.1L461.5,110.6L462.3,110.2L463.4,109.9L464.9,109.7L466.7,109.6L466.7,107.0L464.6,107.1L462.9,107.3L461.4,107.8L460.1,108.4L459.1,109.1L458.3,110.1L457.7,111.1L457.4,112.2L457.3,113.3L457.3,114.3L457.3,115.4L457.4,116.4L457.4,117.4L457.5,118.3L457.5,119.2L457.4,119.9L457.2,120.6L457.0,121.1L456.7,121.5L456.2,121.9L455.5,122.3L454.5,122.6L453.2,122.8L451.5,122.8Z" fill="#e6d44e"/><circle cx="466.7" cy="108.3" r="1.30" fill="#e6d44e"/>
<path d="M451.5,125.8L453.4,125.7L455.1,125.6L456.5,125.4L457.6,125.1L458.6,124.7L459.5,124.2L460.2,123.6L460.7,122.9L461.1,122.3L461.3,121.6L461.5,121.0L461.6,120.5L461.7,120.0L461.8,119.6L461.9,119.3L462.1,119.0L462.3,118.8L462.6,118.5L463.2,118.2L463.9,118.0L464.9,117.8L466.2,117.6L467.8,117.4L469.7,117.4L469.7,114.8L467.7,114.8L465.9,115.0L464.5,115.2L463.2,115.4L462.1,115.8L461.2,116.2L460.5,116.8L459.9,117.4L459.5,118.1L459.2,118.7L459.0,119.4L458.9,119.9L458.8,120.4L458.7,120.8L458.5,121.1L458.4,121.4L458.2,121.6L457.9,121.9L457.5,122.1L456.8,122.3L455.9,122.5L454.7,122.7L453.3,122.8L451.5,122.8Z" fill="#d4e44e"/><circle cx="469.7" cy="116.1" r="1.30" fill="#d4e44e"/>
<path d="M451.5,125.8L453.3,125.7L454.8,125.7L456.0,125.7L456.9,125.7L457.5,125.7L457.9,125.7L458.2,125.7L458.6,125.6L458.3,122.9L458.2,122.9L458.0,122.9L457.8,122.9L457.6,122.9L457.4,122.9L457.4,122.9L457.4,125.6L457.4,125.6L457.7,125.6L458.2,125.5L458.9,125.5L459.9,125.5L461.2,125.5L462.8,125.5L464.7,125.5L464.7,122.9L462.8,122.9L461.2,122.9L459.9,122.9L458.9,122.9L458.2,122.9L457.7,122.9L457.4,122.9L457.2,122.9L457.1,125.6L457.3,125.6L457.5,125.6L457.7,125.6L457.9,125.6L458.1,125.6L458.1,125.7L458.0,122.9L458.1,122.9L457.9,122.9L457.5,122.9L456.8,122.9L456.0,122.9L454.8,122.9L453.3,122.9L451.5,122.8Z" fill="#a8dc5a"/><circle cx="464.7" cy="124.2" r="1.30" fill="#a8dc5a"/>
<path d="M451.5,125.8L453.3,125.8L454.7,125.9L455.7,126.1L456.5,126.3L457.0,126.5L457.2,126.7L457.4,126.8L457.4,127.0L457.5,127.2L457.5,127.6L457.4,128.1L457.4,128.6L457.3,129.2L457.3,129.9L457.3,130.6L457.5,131.4L457.9,132.2L458.5,132.9L459.4,133.5L460.4,133.9L461.6,134.2L463.0,134.4L464.7,134.6L466.7,134.6L466.7,132.0L464.8,131.9L463.3,131.8L462.1,131.6L461.2,131.4L460.6,131.1L460.3,130.9L460.1,130.7L460.0,130.5L460.0,130.3L460.0,129.9L460.0,129.5L460.1,129.0L460.2,128.4L460.2,127.8L460.2,127.0L460.1,126.3L459.8,125.5L459.2,124.7L458.5,124.1L457.5,123.6L456.4,123.3L455.0,123.1L453.4,122.9L451.5,122.8Z" fill="#e6d84e"/><circle cx="466.7" cy="133.3" r="1.30" fill="#e6d84e"/>
<path d="M451.5,125.8L453.2,125.8L454.5,126.1L455.5,126.4L456.2,126.8L456.8,127.3L457.2,127.9L457.4,128.5L457.7,129.3L457.8,130.2L457.8,131.3L457.9,132.3L457.9,133.5L457.8,134.6L457.9,135.8L458.0,137.0L458.2,138.2L458.5,139.4L459.1,140.5L459.9,141.6L461.0,142.4L462.3,143.1L463.8,143.6L465.6,143.9L467.7,144.0L467.7,141.4L465.9,141.3L464.4,141.1L463.3,140.7L462.4,140.2L461.8,139.7L461.4,139.1L461.1,138.4L460.8,137.6L460.7,136.7L460.6,135.7L460.6,134.6L460.6,133.5L460.6,132.4L460.6,131.2L460.6,130.0L460.4,128.8L460.1,127.6L459.6,126.5L458.9,125.4L457.9,124.5L456.7,123.8L455.2,123.3L453.5,123.0L451.5,122.8Z" fill="#dde64e"/><circle cx="467.7" cy="142.7" r="1.30" fill="#dde64e"/>
<path d="M448.1,192.1L453.2,191.8L457.8,191.2L461.7,190.4L465.0,189.4L467.9,188.2L470.4,186.8L472.5,185.3L474.3,183.6L475.8,181.9L477.1,180.1L478.3,178.3L479.4,176.6L480.5,174.8L481.7,173.1L483.0,171.5L484.5,169.9L486.3,168.3L488.4,166.9L490.9,165.6L493.9,164.3L497.5,163.2L501.6,162.3L506.5,161.5L512.1,161.0L511.9,158.2L506.1,158.8L501.1,159.5L496.7,160.5L492.9,161.7L489.7,163.0L486.9,164.5L484.5,166.1L482.5,167.8L480.8,169.5L479.4,171.4L478.1,173.2L476.9,175.0L475.8,176.7L474.7,178.4L473.5,180.0L472.1,181.5L470.6,182.9L468.8,184.3L466.6,185.5L464.0,186.5L460.9,187.4L457.3,188.2L453.0,188.7L447.9,189.1Z" fill="#ea7f5c"/><circle cx="512.0" cy="159.6" r="1.40" fill="#ea7f5c"/>
<path d="M448.0,192.2L452.7,192.1L457.1,191.8L461.1,191.4L464.8,190.8L468.2,190.2L471.4,189.4L474.4,188.5L477.2,187.6L479.9,186.6L482.5,185.5L485.0,184.5L487.4,183.4L489.8,182.3L492.3,181.3L494.8,180.3L497.3,179.3L500.1,178.4L502.9,177.6L506.0,176.8L509.3,176.2L512.9,175.6L516.8,175.2L521.0,175.0L525.6,174.9L525.6,172.1L520.9,172.2L516.6,172.4L512.5,172.8L508.8,173.4L505.4,174.0L502.2,174.8L499.2,175.6L496.4,176.6L493.7,177.6L491.1,178.6L488.6,179.6L486.2,180.7L483.8,181.8L481.3,182.8L478.8,183.8L476.2,184.8L473.5,185.6L470.7,186.5L467.6,187.2L464.3,187.8L460.7,188.3L456.8,188.7L452.6,189.0L448.0,189.0Z" fill="#eea45c"/><circle cx="525.6" cy="173.5" r="1.40" fill="#eea45c"/>
<path d="M448.0,192.2L450.9,192.2L453.5,192.3L456.0,192.4L458.2,192.6L460.3,192.8L462.2,193.1L464.0,193.4L465.7,193.7L467.3,194.0L468.9,194.4L470.4,194.7L471.9,195.1L473.5,195.5L475.0,195.9L476.6,196.3L478.3,196.6L480.1,196.9L482.0,197.3L484.0,197.5L486.1,197.8L488.4,197.9L490.9,198.1L493.7,198.2L496.6,198.2L496.6,195.4L493.7,195.4L491.1,195.3L488.6,195.1L486.4,194.9L484.3,194.7L482.4,194.4L480.6,194.1L478.9,193.8L477.3,193.4L475.7,193.0L474.2,192.7L472.7,192.3L471.1,191.9L469.6,191.5L468.0,191.1L466.3,190.7L464.5,190.4L462.7,190.1L460.7,189.8L458.5,189.5L456.2,189.3L453.7,189.2L450.9,189.1L448.0,189.0Z" fill="#ec955c"/><circle cx="496.6" cy="196.8" r="1.40" fill="#ec955c"/>
<path d="M512.0,161.0L515.9,160.9L519.3,160.3L522.2,159.4L524.6,158.2L526.6,156.6L528.1,154.8L529.3,152.9L530.2,150.8L530.7,148.6L531.1,146.3L531.4,144.1L531.6,141.8L531.7,139.6L531.9,137.4L532.1,135.3L532.5,133.4L533.0,131.6L533.7,130.0L534.6,128.7L535.7,127.5L537.3,126.5L539.2,125.8L541.7,125.3L544.7,125.1L544.7,122.5L541.4,122.7L538.5,123.2L536.1,124.2L534.1,125.4L532.5,127.0L531.3,128.8L530.4,130.7L529.8,132.8L529.4,134.9L529.2,137.1L529.0,139.4L528.8,141.6L528.6,143.8L528.4,145.9L528.0,148.0L527.5,149.9L526.8,151.6L525.8,153.2L524.6,154.6L523.1,155.7L521.1,156.7L518.6,157.5L515.6,158.0L512.0,158.2Z" fill="#ee9a5c"/><circle cx="544.7" cy="123.8" r="1.30" fill="#ee9a5c"/>
<path d="M512.0,161.0L515.9,160.9L519.2,160.5L522.1,159.8L524.5,158.8L526.5,157.6L528.1,156.2L529.4,154.6L530.3,152.9L530.9,151.2L531.4,149.4L531.7,147.6L531.9,145.8L532.0,144.0L532.2,142.4L532.5,140.8L532.8,139.3L533.3,138.0L533.9,136.8L534.8,135.8L535.9,134.9L537.4,134.1L539.3,133.5L541.7,133.1L544.7,133.0L544.7,130.4L541.5,130.5L538.7,131.0L536.4,131.7L534.5,132.6L532.9,133.9L531.7,135.3L530.8,136.9L530.2,138.6L529.8,140.3L529.5,142.0L529.3,143.8L529.1,145.5L528.9,147.2L528.6,148.8L528.3,150.4L527.7,151.8L527.0,153.1L526.1,154.3L524.9,155.3L523.3,156.3L521.2,157.0L518.7,157.6L515.7,158.0L512.0,158.2Z" fill="#ec8a5c"/><circle cx="544.7" cy="131.7" r="1.30" fill="#ec8a5c"/>
<path d="M512.0,161.0L515.9,160.9L519.3,160.6L522.3,160.2L524.8,159.5L527.0,158.7L528.9,157.8L530.4,156.7L531.7,155.5L532.7,154.2L533.5,152.9L534.1,151.6L534.6,150.3L535.0,149.0L535.4,147.8L535.7,146.7L536.1,145.7L536.5,144.8L537.1,144.0L537.7,143.3L538.5,142.7L539.5,142.2L540.9,141.8L542.6,141.5L544.7,141.4L544.7,138.8L542.3,138.9L540.3,139.2L538.6,139.7L537.1,140.4L535.9,141.3L535.0,142.3L534.2,143.5L533.6,144.6L533.2,145.8L532.8,147.0L532.4,148.2L532.0,149.4L531.6,150.5L531.1,151.6L530.4,152.6L529.7,153.6L528.7,154.5L527.4,155.3L525.9,156.1L524.0,156.8L521.7,157.4L519.0,157.8L515.7,158.1L512.0,158.2Z" fill="#ea7564"/><circle cx="544.7" cy="140.1" r="1.30" fill="#ea7564"/>
<path d="M512.0,161.0L516.0,161.0L519.6,160.8L522.8,160.6L525.6,160.2L528.1,159.8L530.2,159.3L532.1,158.8L533.7,158.2L535.1,157.5L536.3,156.9L537.4,156.1L538.2,155.4L538.9,154.7L539.5,154.0L540.1,153.3L540.5,152.7L540.9,152.2L541.4,151.8L541.8,151.4L542.3,151.1L542.8,150.9L543.6,150.7L544.5,150.6L545.7,150.5L545.7,147.9L544.3,148.0L543.1,148.1L542.0,148.4L541.1,148.8L540.2,149.3L539.5,149.8L538.9,150.4L538.4,151.0L537.9,151.6L537.4,152.2L536.9,152.8L536.3,153.4L535.7,154.0L534.9,154.5L533.9,155.1L532.7,155.6L531.2,156.1L529.5,156.6L527.5,157.0L525.2,157.4L522.5,157.7L519.4,158.0L515.9,158.1L512.0,158.2Z" fill="#ea7a64"/><circle cx="545.7" cy="149.2" r="1.30" fill="#ea7a64"/>
<path d="M512.0,161.0L515.9,161.0L519.4,161.0L522.6,160.9L525.5,160.8L528.1,160.7L530.4,160.6L532.4,160.5L534.2,160.4L535.8,160.2L537.1,160.1L538.3,159.9L539.3,159.8L540.2,159.6L540.9,159.4L541.6,159.3L542.1,159.1L542.5,159.0L542.9,158.8L543.2,158.7L543.5,158.7L543.7,158.6L544.0,158.5L544.3,158.5L544.7,158.5L544.7,155.9L544.2,155.9L543.7,155.9L543.2,156.0L542.8,156.1L542.5,156.2L542.1,156.3L541.7,156.4L541.3,156.5L540.9,156.6L540.3,156.8L539.7,156.9L538.9,157.0L537.9,157.2L536.8,157.3L535.5,157.5L534.0,157.6L532.2,157.7L530.2,157.8L528.0,157.9L525.4,158.0L522.6,158.1L519.4,158.1L515.9,158.1L512.0,158.2Z" fill="#ec8a5c"/><circle cx="544.7" cy="157.2" r="1.30" fill="#ec8a5c"/>
<path d="M496.6,198.2L497.7,198.2L498.7,198.0L499.7,197.8L500.6,197.5L501.4,197.1L502.1,196.6L502.8,196.1L503.5,195.6L504.1,195.1L504.6,194.5L505.2,193.9L505.7,193.4L506.2,192.8L506.6,192.3L507.1,191.8L507.6,191.4L508.1,191.0L508.6,190.6L509.2,190.3L509.8,190.0L510.4,189.7L511.1,189.6L511.9,189.4L512.7,189.4L512.7,186.8L511.6,186.8L510.6,187.0L509.6,187.2L508.8,187.5L507.9,187.9L507.2,188.3L506.5,188.8L505.9,189.3L505.3,189.9L504.7,190.4L504.2,191.0L503.6,191.5L503.1,192.0L502.6,192.6L502.1,193.0L501.6,193.5L501.1,193.9L500.6,194.3L500.1,194.6L499.5,194.8L498.9,195.1L498.2,195.2L497.4,195.3L496.6,195.4Z" fill="#e8aa48"/><circle cx="512.7" cy="188.1" r="1.30" fill="#e8aa48"/>
<path d="M496.6,198.2L499.0,198.3L501.1,198.4L503.1,198.5L505.0,198.7L506.6,199.0L508.2,199.3L509.7,199.6L511.1,199.9L512.4,200.3L513.7,200.7L515.0,201.1L516.2,201.6L517.5,202.0L518.8,202.4L520.1,202.8L521.5,203.2L523.0,203.6L524.5,203.9L526.2,204.2L528.0,204.5L529.9,204.7L532.0,204.9L534.3,205.0L536.7,205.0L536.7,202.4L534.3,202.4L532.2,202.3L530.2,202.1L528.3,201.9L526.6,201.6L525.1,201.3L523.6,201.0L522.2,200.6L520.9,200.2L519.6,199.8L518.3,199.4L517.1,198.9L515.8,198.5L514.6,198.1L513.2,197.6L511.8,197.2L510.4,196.9L508.8,196.5L507.1,196.2L505.3,195.9L503.4,195.7L501.3,195.5L499.0,195.4L496.6,195.4Z" fill="#e8684c"/><circle cx="536.7" cy="203.7" r="1.30" fill="#e8684c"/>
<path d="M496.6,198.2L498.8,198.3L500.9,198.6L502.7,199.0L504.4,199.5L506.0,200.1L507.5,200.9L508.9,201.7L510.2,202.6L511.5,203.6L512.8,204.7L514.0,205.8L515.2,206.9L516.4,208.0L517.7,209.2L519.0,210.3L520.4,211.4L521.9,212.4L523.4,213.3L525.1,214.2L526.9,214.9L528.9,215.5L531.0,215.9L533.3,216.2L535.7,216.3L535.7,213.7L533.5,213.6L531.4,213.3L529.5,212.9L527.8,212.4L526.2,211.7L524.7,211.0L523.3,210.1L522.0,209.2L520.8,208.2L519.5,207.1L518.3,206.0L517.1,204.9L515.9,203.7L514.6,202.6L513.3,201.5L511.9,200.4L510.5,199.4L508.9,198.4L507.2,197.6L505.4,196.8L503.5,196.2L501.3,195.7L499.1,195.5L496.6,195.4Z" fill="#ec7c58"/><circle cx="535.7" cy="215.0" r="1.30" fill="#ec7c58"/>
<path d="M344.5,331.8L346.6,331.7L348.6,331.5L350.4,331.2L352.1,330.7L353.7,330.2L355.2,329.6L356.5,328.9L357.8,328.2L359.0,327.4L360.1,326.6L361.2,325.8L362.3,325.0L363.3,324.2L364.4,323.5L365.4,322.7L366.5,322.0L367.7,321.4L368.9,320.8L370.1,320.3L371.5,319.8L373.0,319.4L374.6,319.1L376.4,319.0L378.3,318.9L378.3,316.1L376.2,316.2L374.2,316.4L372.4,316.7L370.7,317.1L369.1,317.6L367.7,318.2L366.3,318.8L365.0,319.5L363.8,320.3L362.7,321.1L361.6,321.9L360.5,322.7L359.5,323.5L358.4,324.2L357.3,324.9L356.2,325.6L355.1,326.3L353.9,326.8L352.6,327.4L351.3,327.8L349.8,328.2L348.2,328.4L346.4,328.6L344.5,328.6Z" fill="#5ccf9c"/><circle cx="378.3" cy="317.5" r="1.40" fill="#5ccf9c"/>
<path d="M378.3,318.9L379.9,318.9L381.4,318.6L382.8,318.2L384.0,317.7L385.2,317.0L386.3,316.2L387.3,315.4L388.2,314.5L389.0,313.6L389.9,312.7L390.6,311.7L391.4,310.8L392.1,309.8L392.9,308.9L393.6,308.0L394.4,307.2L395.2,306.4L396.0,305.7L396.8,305.1L397.8,304.6L398.8,304.2L399.8,303.9L401.0,303.7L402.3,303.6L402.3,301.0L400.7,301.1L399.2,301.3L397.9,301.7L396.6,302.2L395.4,302.9L394.4,303.6L393.4,304.4L392.5,305.3L391.6,306.2L390.8,307.1L390.0,308.1L389.2,309.0L388.5,310.0L387.7,310.9L387.0,311.8L386.2,312.6L385.4,313.3L384.6,314.0L383.7,314.6L382.8,315.1L381.8,315.5L380.7,315.8L379.6,316.0L378.3,316.1Z" fill="#5ccf9c"/><circle cx="402.3" cy="302.3" r="1.30" fill="#5ccf9c"/>
<path d="M402.3,303.7L404.0,303.6L405.6,303.6L407.1,303.6L408.4,303.6L409.7,303.6L410.8,303.6L411.9,303.5L413.0,303.5L413.9,303.5L414.9,303.5L415.8,303.4L416.7,303.4L417.6,303.4L418.5,303.4L419.4,303.4L420.4,303.3L421.4,303.3L422.5,303.3L423.7,303.3L424.9,303.2L426.2,303.2L427.7,303.2L429.3,303.2L431.0,303.2L431.0,300.8L429.3,300.8L427.7,300.8L426.2,300.8L424.9,300.8L423.6,300.8L422.5,300.8L421.4,300.8L420.3,300.8L419.4,300.8L418.4,300.9L417.5,300.9L416.6,300.9L415.7,300.9L414.8,300.9L413.9,300.9L412.9,300.9L411.9,300.9L410.8,300.9L409.6,300.9L408.4,301.0L407.1,301.0L405.6,301.0L404.0,301.0L402.3,300.9Z" fill="#5ccfa8"/><circle cx="431.0" cy="302.0" r="1.20" fill="#5ccfa8"/>
<path d="M402.3,303.7L403.2,303.5L404.0,303.1L404.5,302.5L404.9,301.8L405.2,301.1L405.5,300.3L405.7,299.5L405.9,298.7L406.0,297.8L406.2,296.9L406.3,296.0L406.5,295.1L406.6,294.2L406.8,293.3L407.0,292.4L407.2,291.6L407.5,290.9L407.7,290.3L408.0,289.7L408.3,289.3L408.7,289.0L409.0,288.8L409.4,288.7L409.8,288.6L409.8,286.2L408.8,286.3L407.9,286.6L407.2,287.1L406.5,287.7L406.0,288.4L405.5,289.2L405.1,290.0L404.8,290.9L404.6,291.8L404.3,292.7L404.1,293.7L404.0,294.6L403.8,295.6L403.6,296.5L403.5,297.4L403.3,298.2L403.1,298.9L403.0,299.6L402.8,300.2L402.6,300.6L402.4,300.9L402.3,301.0L402.3,301.0L402.3,300.9Z" fill="#5cd4bc"/><circle cx="409.8" cy="287.4" r="1.20" fill="#5cd4bc"/>
<path d="M402.3,303.7L402.3,303.6L402.2,303.6L402.2,303.6L402.3,303.8L402.5,304.0L402.6,304.4L402.7,304.9L402.8,305.4L402.9,306.0L403.0,306.7L403.1,307.4L403.3,308.1L403.4,308.8L403.6,309.5L403.8,310.2L404.0,311.0L404.3,311.6L404.7,312.3L405.1,312.9L405.7,313.5L406.3,314.0L407.1,314.3L407.9,314.5L408.8,314.6L408.8,312.2L408.3,312.2L407.9,312.0L407.6,311.9L407.3,311.7L407.0,311.4L406.8,311.0L406.5,310.6L406.3,310.1L406.2,309.5L406.0,308.9L405.9,308.3L405.8,307.6L405.7,307.0L405.6,306.3L405.5,305.6L405.4,304.9L405.3,304.3L405.1,303.7L404.9,303.1L404.7,302.5L404.3,301.9L403.8,301.4L403.1,301.1L402.3,300.9Z" fill="#5cd4bc"/><circle cx="408.8" cy="313.4" r="1.20" fill="#5cd4bc"/>
<path d="M431.0,303.2L435.2,302.8L438.7,301.6L441.6,299.7L443.8,297.2L445.4,294.1L446.5,290.6L447.2,286.8L447.6,282.7L447.7,278.4L447.6,273.9L447.4,269.2L447.1,264.6L446.8,259.9L446.6,255.4L446.6,250.9L446.7,246.7L447.0,242.8L447.7,239.3L448.7,236.1L450.1,233.5L451.9,231.4L454.2,229.8L457.2,228.8L460.9,228.5L460.9,226.2L456.7,226.5L453.2,227.7L450.3,229.6L448.1,232.2L446.5,235.2L445.4,238.7L444.7,242.5L444.3,246.6L444.2,250.9L444.3,255.4L444.5,260.1L444.7,264.7L445.0,269.4L445.2,273.9L445.3,278.4L445.2,282.6L444.8,286.5L444.1,290.0L443.1,293.2L441.7,295.8L439.9,297.9L437.6,299.4L434.7,300.4L431.0,300.8Z" fill="#5ccf98"/><circle cx="460.9" cy="227.3" r="1.15" fill="#5ccf98"/>
<path d="M431.0,303.2L435.1,302.9L438.6,302.0L441.4,300.5L443.7,298.5L445.3,296.1L446.5,293.3L447.2,290.3L447.6,287.1L447.7,283.7L447.6,280.2L447.4,276.6L447.1,273.0L446.8,269.4L446.6,265.9L446.6,262.5L446.7,259.3L447.0,256.3L447.7,253.6L448.6,251.2L450.0,249.2L451.8,247.6L454.1,246.4L457.1,245.6L460.9,245.3L460.9,243.0L456.7,243.4L453.3,244.3L450.5,245.7L448.2,247.7L446.6,250.1L445.4,252.9L444.7,255.9L444.3,259.1L444.2,262.5L444.3,266.0L444.5,269.6L444.7,273.2L445.0,276.8L445.2,280.3L445.3,283.7L445.2,286.9L444.8,289.9L444.2,292.6L443.2,294.9L441.8,296.9L440.0,298.5L437.7,299.7L434.7,300.5L431.0,300.8Z" fill="#5ccf98"/><circle cx="460.9" cy="244.2" r="1.15" fill="#5ccf98"/>
<path d="M431.0,303.2L435.1,303.0L438.5,302.4L441.3,301.3L443.5,299.9L445.2,298.1L446.4,296.1L447.2,293.8L447.6,291.4L447.7,289.0L447.6,286.4L447.4,283.9L447.1,281.3L446.8,278.7L446.6,276.2L446.6,273.8L446.7,271.6L447.0,269.5L447.6,267.7L448.5,266.1L449.8,264.8L451.6,263.6L454.0,262.7L457.1,262.2L460.9,261.9L460.9,259.7L456.8,259.9L453.4,260.5L450.6,261.5L448.4,262.9L446.7,264.7L445.5,266.8L444.7,269.0L444.3,271.4L444.2,273.8L444.3,276.4L444.5,278.9L444.7,281.5L445.0,284.1L445.2,286.6L445.3,289.0L445.2,291.2L444.8,293.2L444.2,295.1L443.3,296.6L442.0,298.0L440.2,299.1L437.8,300.0L434.8,300.6L431.0,300.8Z" fill="#5ccf98"/><circle cx="460.9" cy="260.8" r="1.15" fill="#5ccf98"/>
<path d="M431.0,303.2L435.0,303.1L438.3,302.7L441.1,302.1L443.3,301.2L445.0,300.1L446.3,298.8L447.1,297.2L447.6,295.6L447.7,294.0L447.6,292.4L447.4,290.7L447.1,289.1L446.8,287.6L446.6,286.1L446.6,284.7L446.7,283.4L446.9,282.3L447.5,281.3L448.3,280.4L449.6,279.6L451.5,278.9L453.9,278.3L457.0,278.0L460.9,277.8L460.9,275.6L456.8,275.7L453.5,276.1L450.8,276.7L448.6,277.5L446.9,278.6L445.6,280.0L444.8,281.5L444.3,283.1L444.2,284.7L444.3,286.3L444.5,288.0L444.7,289.6L445.0,291.1L445.2,292.6L445.3,294.0L445.2,295.2L444.9,296.4L444.3,297.3L443.5,298.2L442.2,299.0L440.4,299.7L437.9,300.3L434.8,300.6L431.0,300.8Z" fill="#5ccfa0"/><circle cx="460.9" cy="276.7" r="1.15" fill="#5ccfa0"/>
<path d="M431.0,303.2L433.3,303.2L435.3,303.0L437.1,302.8L438.7,302.4L440.2,302.0L441.5,301.5L442.7,300.9L443.8,300.3L444.7,299.7L445.6,299.0L446.4,298.3L447.2,297.7L448.0,297.0L448.7,296.4L449.5,295.8L450.4,295.2L451.3,294.7L452.3,294.2L453.4,293.8L454.7,293.4L456.2,293.1L457.8,292.9L459.7,292.7L461.9,292.6L461.9,290.4L459.6,290.4L457.6,290.6L455.8,290.8L454.1,291.1L452.7,291.6L451.4,292.1L450.2,292.6L449.1,293.2L448.1,293.9L447.3,294.5L446.4,295.2L445.6,295.8L444.9,296.5L444.1,297.1L443.3,297.7L442.5,298.2L441.6,298.8L440.5,299.2L439.4,299.7L438.1,300.0L436.7,300.3L435.0,300.6L433.1,300.7L431.0,300.8Z" fill="#5ccfd0"/><circle cx="461.9" cy="291.5" r="1.15" fill="#5ccfd0"/>
<path d="M431.0,303.2L432.9,303.2L434.6,303.2L436.1,303.2L437.5,303.2L438.7,303.2L439.7,303.2L440.7,303.2L441.5,303.2L442.3,303.2L443.1,303.2L443.8,303.2L444.4,303.2L445.1,303.2L445.8,303.2L446.5,303.2L447.3,303.2L448.2,303.2L449.1,303.2L450.2,303.2L451.4,303.2L452.7,303.2L454.2,303.2L455.9,303.2L457.9,303.1L457.9,300.9L455.9,300.8L454.2,300.8L452.7,300.8L451.4,300.8L450.2,300.8L449.1,300.8L448.2,300.8L447.3,300.8L446.5,300.8L445.8,300.8L445.1,300.8L444.4,300.8L443.8,300.8L443.1,300.8L442.3,300.8L441.5,300.8L440.7,300.8L439.7,300.8L438.7,300.8L437.5,300.8L436.1,300.8L434.6,300.8L432.9,300.8L431.0,300.8Z" fill="#5cd08c"/><circle cx="457.9" cy="302.0" r="1.15" fill="#5cd08c"/>
<path d="M431.0,303.2L433.0,303.3L434.9,303.5L436.4,303.7L437.8,304.0L439.1,304.4L440.2,304.9L441.1,305.4L442.0,306.0L442.8,306.6L443.6,307.2L444.3,307.9L445.1,308.6L445.9,309.3L446.7,310.1L447.5,310.8L448.5,311.5L449.5,312.2L450.6,312.8L451.9,313.3L453.3,313.8L454.9,314.1L456.7,314.4L458.7,314.6L460.9,314.6L460.9,312.4L458.8,312.3L457.0,312.1L455.4,311.9L454.0,311.5L452.7,311.1L451.7,310.6L450.7,310.1L449.8,309.5L449.0,308.9L448.2,308.3L447.5,307.6L446.8,306.9L446.0,306.2L445.2,305.4L444.4,304.7L443.4,304.0L442.4,303.3L441.2,302.7L440.0,302.1L438.5,301.7L436.9,301.3L435.2,301.0L433.2,300.8L431.0,300.8Z" fill="#5ccfa8"/><circle cx="460.9" cy="313.5" r="1.15" fill="#5ccfa8"/>
<path d="M431.0,303.2L434.8,303.4L438.0,303.7L440.4,304.2L442.2,304.8L443.5,305.6L444.4,306.4L444.9,307.2L445.2,308.2L445.3,309.3L445.2,310.5L445.0,311.9L444.7,313.3L444.5,314.7L444.3,316.2L444.2,317.7L444.3,319.2L444.8,320.7L445.6,322.1L446.9,323.4L448.6,324.4L450.8,325.1L453.5,325.7L456.9,326.0L460.9,326.1L460.9,323.9L457.0,323.7L453.9,323.4L451.4,322.9L449.6,322.2L448.3,321.5L447.4,320.7L446.9,319.8L446.6,318.8L446.6,317.7L446.6,316.5L446.8,315.1L447.1,313.7L447.4,312.3L447.6,310.8L447.7,309.3L447.6,307.7L447.1,306.2L446.3,304.8L445.0,303.6L443.3,302.6L441.1,301.8L438.3,301.2L435.0,300.9L431.0,300.8Z" fill="#5ccfa8"/><circle cx="460.9" cy="325.0" r="1.15" fill="#5ccfa8"/>
<path d="M431.0,303.2L434.8,303.4L437.9,303.9L440.2,304.7L442.0,305.7L443.3,306.8L444.2,308.2L444.8,309.7L445.2,311.5L445.3,313.4L445.2,315.5L445.0,317.6L444.7,319.9L444.5,322.1L444.3,324.4L444.2,326.6L444.3,328.8L444.7,330.9L445.5,332.9L446.7,334.7L448.4,336.3L450.7,337.5L453.4,338.4L456.8,339.0L460.9,339.1L460.9,336.9L457.0,336.7L454.0,336.2L451.6,335.4L449.8,334.4L448.5,333.2L447.6,331.8L447.0,330.3L446.7,328.5L446.6,326.6L446.6,324.5L446.8,322.4L447.1,320.1L447.4,317.9L447.6,315.6L447.7,313.4L447.6,311.2L447.2,309.1L446.4,307.1L445.2,305.2L443.5,303.7L441.2,302.4L438.4,301.5L435.0,300.9L431.0,300.8Z" fill="#5ccfa8"/><circle cx="460.9" cy="338.0" r="1.15" fill="#5ccfa8"/>
<path d="M431.0,303.2L433.9,303.5L436.3,304.1L438.1,305.0L439.5,306.3L440.5,307.8L441.3,309.7L441.8,311.8L442.1,314.2L442.2,316.8L442.1,319.6L441.9,322.4L441.7,325.4L441.5,328.3L441.4,331.2L441.3,334.1L441.4,336.8L441.7,339.5L442.3,341.9L443.2,344.2L444.6,346.2L446.4,347.8L448.7,349.1L451.5,349.8L454.9,350.0L454.9,347.8L451.9,347.5L449.6,346.9L447.7,345.9L446.3,344.7L445.3,343.1L444.5,341.2L444.0,339.1L443.8,336.7L443.7,334.1L443.7,331.3L443.9,328.5L444.1,325.5L444.3,322.6L444.5,319.7L444.6,316.8L444.5,314.1L444.2,311.4L443.6,309.0L442.7,306.7L441.3,304.7L439.5,303.0L437.2,301.8L434.3,301.0L431.0,300.8Z" fill="#5ccfa8"/><circle cx="454.9" cy="348.9" r="1.15" fill="#5ccfa8"/>
<path d="M382.5,319.9L383.2,320.0L383.8,320.0L384.3,320.2L384.8,320.3L385.3,320.5L385.7,320.7L386.2,321.0L386.6,321.3L387.1,321.6L387.6,321.9L388.1,322.3L388.6,322.7L389.1,323.1L389.7,323.5L390.3,323.9L391.0,324.3L391.7,324.6L392.5,325.0L393.3,325.3L394.3,325.5L395.3,325.7L396.3,325.9L397.5,326.0L398.7,326.0L398.7,323.4L397.6,323.4L396.6,323.3L395.7,323.1L394.9,323.0L394.2,322.7L393.5,322.5L392.9,322.2L392.3,321.9L391.7,321.6L391.2,321.2L390.7,320.9L390.2,320.5L389.8,320.1L389.3,319.7L388.8,319.3L388.2,319.0L387.7,318.6L387.1,318.2L386.5,317.9L385.8,317.6L385.0,317.4L384.2,317.2L383.4,317.1L382.5,317.1Z" fill="#e5736c"/><circle cx="398.7" cy="324.7" r="1.30" fill="#e5736c"/>
<path d="M381.3,319.2L381.8,320.1L382.2,321.0L382.7,322.0L383.1,322.9L383.4,323.9L383.8,324.8L384.2,325.8L384.5,326.7L384.9,327.7L385.3,328.6L385.7,329.6L386.2,330.5L386.7,331.3L387.3,332.2L387.9,333.0L388.6,333.7L389.4,334.4L390.3,335.0L391.3,335.6L392.4,336.0L393.6,336.4L394.8,336.6L396.2,336.8L397.7,336.8L397.7,334.2L396.4,334.1L395.2,334.0L394.2,333.8L393.3,333.5L392.5,333.2L391.7,332.8L391.1,332.3L390.5,331.8L390.0,331.2L389.5,330.6L389.0,329.9L388.6,329.2L388.2,328.4L387.9,327.5L387.5,326.7L387.2,325.7L386.8,324.8L386.5,323.8L386.1,322.8L385.7,321.8L385.3,320.8L384.8,319.8L384.3,318.8L383.7,317.8Z" fill="#e5736c"/><circle cx="397.7" cy="335.5" r="1.30" fill="#e5736c"/>
<path d="M345.5,330.8L345.2,333.2L345.0,335.4L344.8,337.6L344.7,339.6L344.5,341.6L344.4,343.4L344.3,345.2L344.3,346.8L344.3,348.4L344.3,349.9L344.3,351.3L344.4,352.6L344.6,353.8L344.8,354.9L345.0,356.0L345.3,356.9L345.6,357.8L346.0,358.6L346.5,359.3L347.1,360.0L347.8,360.5L348.6,360.8L349.4,361.0L350.3,361.1L350.3,358.3L349.9,358.3L349.6,358.2L349.3,358.0L349.0,357.8L348.8,357.5L348.5,357.2L348.3,356.7L348.0,356.0L347.8,355.3L347.6,354.4L347.5,353.4L347.4,352.3L347.3,351.2L347.3,349.8L347.3,348.4L347.3,346.9L347.3,345.3L347.4,343.6L347.6,341.8L347.7,339.8L347.9,337.8L348.1,335.7L348.3,333.5L348.5,331.2Z" fill="#dc8be9"/><circle cx="350.3" cy="359.7" r="1.40" fill="#dc8be9"/>
<path d="M345.5,331.1L345.5,332.3L345.6,333.5L345.6,334.6L345.7,335.6L345.8,336.6L345.8,337.5L345.9,338.3L346.0,339.0L346.1,339.7L346.2,340.3L346.4,340.9L346.5,341.5L346.7,342.0L347.0,342.5L347.3,343.0L347.6,343.4L348.0,343.7L348.5,344.0L348.9,344.2L349.4,344.4L349.9,344.5L350.4,344.6L351.0,344.6L351.5,344.6L351.5,341.8L351.1,341.8L350.7,341.8L350.4,341.7L350.2,341.7L350.0,341.6L349.9,341.5L349.8,341.5L349.7,341.4L349.6,341.3L349.5,341.1L349.4,340.9L349.3,340.6L349.2,340.2L349.1,339.8L349.1,339.2L349.0,338.6L348.9,338.0L348.9,337.2L348.8,336.4L348.8,335.5L348.7,334.5L348.7,333.4L348.6,332.2L348.5,330.9Z" fill="#5cd4bc"/><circle cx="351.5" cy="343.2" r="1.40" fill="#5cd4bc"/>
<path d="M350.3,361.1L351.2,361.1L352.1,361.0L352.9,360.8L353.7,360.5L354.4,360.2L355.0,359.8L355.6,359.4L356.2,359.0L356.7,358.5L357.1,358.1L357.6,357.6L358.0,357.2L358.4,356.8L358.8,356.4L359.2,356.0L359.6,355.6L360.0,355.3L360.4,355.0L360.9,354.8L361.3,354.5L361.8,354.4L362.4,354.2L363.0,354.1L363.7,354.1L363.7,351.5L362.8,351.5L361.9,351.6L361.1,351.8L360.4,352.1L359.7,352.4L359.0,352.7L358.4,353.1L357.9,353.5L357.4,354.0L356.9,354.4L356.4,354.9L356.0,355.3L355.6,355.7L355.2,356.1L354.8,356.5L354.4,356.8L354.0,357.1L353.5,357.4L353.1,357.7L352.6,357.9L352.1,358.0L351.6,358.2L351.0,358.2L350.3,358.2Z" fill="#dc8be9"/><circle cx="363.7" cy="352.8" r="1.30" fill="#dc8be9"/>
<path d="M350.3,361.1L359.1,361.1L367.3,361.1L374.8,361.1L381.7,361.1L388.1,361.1L394.1,361.1L399.6,361.1L404.9,361.1L409.9,361.1L414.7,361.1L419.4,361.1L424.0,361.1L428.6,361.1L433.3,361.1L438.1,361.1L443.1,361.0L448.4,361.0L453.9,361.0L459.9,361.0L466.3,361.0L473.2,361.0L480.7,361.0L488.9,361.0L497.7,361.0L497.7,358.4L488.9,358.4L480.7,358.4L473.2,358.4L466.3,358.4L459.9,358.4L453.9,358.4L448.4,358.4L443.1,358.3L438.1,358.3L433.3,358.3L428.6,358.3L424.0,358.3L419.4,358.3L414.7,358.3L409.9,358.3L404.9,358.3L399.6,358.3L394.1,358.3L388.1,358.3L381.7,358.3L374.8,358.3L367.3,358.3L359.1,358.3L350.3,358.2Z" fill="#dc8be9"/><circle cx="497.7" cy="359.7" r="1.30" fill="#dc8be9"/>
<path d="M350.3,361.1L350.9,361.2L351.5,361.3L352.0,361.4L352.5,361.7L352.9,361.9L353.4,362.2L353.8,362.6L354.2,363.1L354.6,363.6L355.0,364.1L355.5,364.6L355.9,365.2L356.3,365.8L356.8,366.4L357.2,367.0L357.7,367.6L358.3,368.1L358.9,368.7L359.5,369.1L360.2,369.6L361.0,369.9L361.8,370.2L362.7,370.3L363.7,370.4L363.7,367.8L363.1,367.8L362.5,367.6L362.0,367.5L361.5,367.2L361.0,367.0L360.6,366.6L360.2,366.2L359.7,365.8L359.3,365.3L358.9,364.7L358.5,364.2L358.1,363.6L357.7,363.0L357.3,362.4L356.8,361.8L356.3,361.2L355.8,360.6L355.2,360.1L354.5,359.6L353.8,359.1L353.0,358.8L352.2,358.5L351.3,358.3L350.3,358.2Z" fill="#dc8be9"/><circle cx="363.7" cy="369.1" r="1.30" fill="#dc8be9"/>
<path d="M268.0,237.8L260.7,238.3L254.4,239.5L249.1,241.5L244.7,244.3L241.2,247.6L238.5,251.4L236.5,255.7L235.0,260.2L234.0,265.0L233.4,269.9L232.9,274.9L232.6,279.9L232.3,284.8L231.9,289.7L231.3,294.4L230.4,298.8L229.2,302.9L227.6,306.6L225.4,309.8L222.6,312.6L219.1,314.8L214.7,316.6L209.3,317.7L202.7,318.1L202.7,321.9L209.8,321.5L215.8,320.3L220.9,318.3L225.1,315.6L228.4,312.3L231.0,308.4L232.9,304.2L234.3,299.7L235.2,295.0L235.8,290.1L236.3,285.1L236.6,280.1L237.0,275.2L237.4,270.3L238.1,265.7L239.0,261.3L240.3,257.2L242.1,253.6L244.4,250.3L247.3,247.6L251.0,245.3L255.6,243.6L261.2,242.5L268.0,242.2Z" fill="#6b9be3"/><circle cx="202.7" cy="320.0" r="1.90" fill="#6b9be3"/>
<path d="M268.1,237.9L260.7,237.4L254.2,236.6L248.6,235.6L243.7,234.3L239.5,232.9L235.9,231.2L232.8,229.4L230.1,227.5L227.7,225.4L225.5,223.3L223.5,221.1L221.6,218.8L219.6,216.5L217.6,214.2L215.4,211.9L212.9,209.7L210.1,207.6L207.0,205.7L203.4,204.0L199.2,202.6L194.5,201.4L189.1,200.5L183.0,199.9L176.0,199.7L176.0,203.5L182.7,203.7L188.6,204.3L193.7,205.2L198.1,206.3L201.9,207.7L205.1,209.2L207.9,210.9L210.4,212.8L212.6,214.8L214.6,216.9L216.5,219.1L218.5,221.4L220.4,223.7L222.6,226.1L224.9,228.4L227.5,230.7L230.5,232.9L234.0,234.9L238.0,236.7L242.5,238.4L247.7,239.7L253.6,240.9L260.3,241.7L267.9,242.1Z" fill="#92d461"/><circle cx="176.0" cy="201.6" r="1.90" fill="#92d461"/>
<path d="M314.1,232.9L313.9,224.1L313.6,215.8L313.3,208.1L313.0,200.9L312.6,194.2L312.0,188.1L311.3,182.4L310.4,177.1L309.3,172.2L307.8,167.7L306.1,163.6L303.9,159.8L301.4,156.4L298.4,153.3L294.9,150.6L291.0,148.1L286.5,145.9L281.5,144.0L276.0,142.3L269.8,140.8L263.0,139.5L255.5,138.2L247.2,137.1L238.2,136.1L237.8,139.9L246.7,140.9L254.9,142.0L262.3,143.3L269.0,144.6L274.9,146.1L280.3,147.7L284.9,149.6L289.0,151.6L292.6,153.8L295.7,156.3L298.3,159.0L300.5,162.0L302.4,165.4L304.0,169.1L305.3,173.3L306.4,177.9L307.2,182.9L307.9,188.5L308.4,194.5L308.8,201.1L309.1,208.2L309.3,215.9L309.6,224.2L309.9,233.1Z" fill="#dc8be9"/><circle cx="238.0" cy="138.0" r="1.90" fill="#dc8be9"/>
<path d="M314.1,233.0L314.2,225.6L314.3,218.5L314.5,211.9L314.8,205.6L315.4,199.7L316.1,194.2L317.1,189.1L318.3,184.4L319.9,180.0L321.7,176.0L323.9,172.3L326.5,169.0L329.4,165.9L332.9,163.2L336.8,160.7L341.3,158.5L346.4,156.5L352.1,154.8L358.4,153.4L365.4,152.2L373.2,151.3L381.7,150.7L390.9,150.3L401.0,150.2L401.0,146.4L390.8,146.5L381.5,146.9L372.8,147.5L364.9,148.4L357.7,149.6L351.1,151.0L345.1,152.8L339.7,154.8L334.9,157.2L330.5,159.9L326.7,162.9L323.4,166.3L320.5,170.1L318.1,174.1L316.1,178.5L314.4,183.2L313.1,188.2L312.0,193.6L311.2,199.3L310.6,205.3L310.3,211.7L310.0,218.4L309.9,225.5L309.9,233.0Z" fill="#e9d54c"/><circle cx="401.0" cy="148.3" r="1.90" fill="#e9d54c"/>
<path d="M314.1,233.0L314.1,221.6L314.0,210.5L313.7,199.8L313.2,189.6L312.6,179.7L311.6,170.2L310.4,161.2L308.7,152.6L306.6,144.4L304.1,136.7L301.0,129.4L297.3,122.6L293.1,116.2L288.1,110.4L282.4,105.1L275.9,100.3L268.7,96.1L260.6,92.4L251.6,89.3L241.7,86.7L230.9,84.7L219.0,83.2L206.1,82.4L192.0,82.1L192.0,85.9L205.9,86.2L218.7,87.1L230.3,88.5L240.9,90.5L250.5,93.0L259.1,96.0L266.9,99.6L273.8,103.6L279.8,108.2L285.2,113.2L289.8,118.7L293.9,124.7L297.3,131.1L300.3,138.1L302.7,145.6L304.7,153.5L306.3,161.9L307.5,170.7L308.4,180.0L309.0,189.8L309.4,200.0L309.7,210.6L309.8,221.6L309.9,233.0Z" fill="#e67b78"/><circle cx="192.0" cy="84.0" r="1.90" fill="#e67b78"/>
<path d="M357.2,242.1L364.5,241.4L371.1,240.1L376.8,238.5L381.9,236.5L386.4,234.2L390.3,231.6L393.7,228.8L396.6,225.8L399.3,222.8L401.6,219.6L403.7,216.5L405.7,213.4L407.7,210.3L409.7,207.4L411.8,204.7L414.0,202.1L416.5,199.8L419.3,197.8L422.5,196.0L426.3,194.5L430.6,193.3L435.6,192.6L441.3,192.3L447.9,192.5L448.1,188.7L441.3,188.5L435.2,188.8L429.8,189.6L425.1,190.8L420.9,192.4L417.2,194.5L414.0,196.8L411.2,199.4L408.7,202.2L406.4,205.1L404.3,208.1L402.3,211.2L400.3,214.2L398.3,217.3L396.0,220.2L393.6,223.0L390.9,225.7L387.8,228.3L384.3,230.6L380.2,232.7L375.5,234.5L370.1,236.0L363.9,237.1L356.8,237.9Z" fill="#ec9b5c"/><circle cx="448.0" cy="190.6" r="1.90" fill="#ec9b5c"/>
<path d="M309.9,246.0L309.8,252.1L309.6,258.0L309.5,263.8L309.3,269.4L309.2,274.8L309.2,280.0L309.2,285.0L309.2,289.8L309.5,294.5L309.8,298.9L310.4,303.1L311.1,307.0L312.0,310.7L313.2,314.2L314.7,317.5L316.6,320.4L318.7,323.1L321.2,325.4L324.1,327.5L327.4,329.1L331.1,330.4L335.1,331.3L339.6,331.9L344.5,332.1L344.5,328.3L339.9,328.1L335.8,327.6L332.1,326.7L328.9,325.5L326.1,324.1L323.7,322.4L321.6,320.4L319.8,318.1L318.3,315.6L317.0,312.7L315.9,309.6L315.0,306.2L314.4,302.4L313.9,298.5L313.6,294.2L313.4,289.7L313.3,285.0L313.3,280.0L313.4,274.9L313.6,269.5L313.7,263.9L313.9,258.1L314.0,252.2L314.1,246.0Z" fill="#5cd4bc"/><circle cx="344.5" cy="330.2" r="1.90" fill="#5cd4bc"/>
<path d="M192.9,81.7L191.3,84.0L192.9,86.3M238.9,135.7L237.3,138.0L238.9,140.3M176.9,199.3L175.3,201.6L176.9,203.9M203.6,317.7L202.0,320.0L203.6,322.3M176.9,307.7L175.3,310.0L176.9,312.3M400.1,146.0L401.7,148.3L400.1,150.6M396.5,84.9L398.1,87.2L396.5,89.5M339.7,72.7L338.1,75.0L339.7,77.3M450.6,122.0L452.2,124.3L450.6,126.6M447.1,188.3L448.7,190.6L447.1,192.9M511.1,157.1L512.7,159.4L511.1,161.7M495.7,194.5L497.3,196.8L495.7,199.1M343.6,327.9L345.2,330.2L343.6,332.5M377.4,315.2L379.0,317.5L377.4,319.8M401.4,300.0L403.0,302.3L401.4,304.6M430.1,299.7L431.7,302.0L430.1,304.3M349.4,357.4L351.0,359.7L349.4,362.0" fill="none" stroke="#fff" stroke-width="0.8" stroke-opacity="0.85"/>
<path d="M268,235.8 L263.8,240 L268,244.2Z M357,235.8 L361.2,240 L357,244.2Z M307.8,233 L312,228.8 L316.2,233Z M307.8,246 L312,250.2 L316.2,246Z" fill="#fff"/>
<rect x="268" y="233" width="89" height="13" fill="#a9a9a9"/>
<path d="M268,237.5 L265.5,240 L268,242.5Z M357,237.5 L359.5,240 L357,242.5Z M309.5,233 L312,230.5 L314.5,233Z M309.5,246 L312,248.5 L314.5,246Z" fill="#a9a9a9"/>
<text x="278.9" y="242.3" lengthAdjust="spacingAndGlyphs" textLength="66.4" lengthAdjust="spacingAndGlyphs" font-size="8.1" font-weight="bold" fill="#ffffff" text-rendering="geometricPrecision">The Market Solution</text>
<g lengthAdjust="spacingAndGlyphs">
<text x="55.5" y="54.70" lengthAdjust="spacingAndGlyphs" textLength="76.5" font-size="6.1" fill="#8c4848">enforcement/dispute resolution</text>
<text x="54.5" y="64.20" lengthAdjust="spacingAndGlyphs" textLength="36.5" font-size="6.1" fill="#8c4848">Commonwealth</text>
<text x="55.0" y="75.20" lengthAdjust="spacingAndGlyphs" textLength="30.8" font-size="6.1" fill="#8c4848">Transatlantic</text>
<text x="53.0" y="85.45" lengthAdjust="spacingAndGlyphs" textLength="27.0" font-size="6.1" fill="#8c4848">Unbundling</text>
<text x="52.0" y="95.20" lengthAdjust="spacingAndGlyphs" textLength="47.0" font-size="6.1" fill="#8c4848">8-Point Programme</text>
<text x="50.0" y="105.80" lengthAdjust="spacingAndGlyphs" textLength="57.0" font-size="6.1" fill="#8c4848">Transnational Org crime</text>
<text x="151.7" y="110.20" lengthAdjust="spacingAndGlyphs" textLength="61.5" font-size="6.1" fill="#8a4a9c">Climate Change &amp; Energy</text>
<text x="151.7" y="119.40" lengthAdjust="spacingAndGlyphs" textLength="32.6" font-size="6.1" fill="#8a4a9c">Digital Market</text>
<text x="151.7" y="129.80" lengthAdjust="spacingAndGlyphs" textLength="21.9" font-size="6.1" fill="#8a4a9c">Fisheries</text>
<text x="151.0" y="139.80" lengthAdjust="spacingAndGlyphs" textLength="44.7" font-size="6.1" fill="#8a4a9c">Foreign &amp; Defence</text>
<text x="151.0" y="148.70" lengthAdjust="spacingAndGlyphs" textLength="25.8" font-size="6.1" fill="#8a4a9c">Agriculture</text>
<text x="151.0" y="157.70" lengthAdjust="spacingAndGlyphs" textLength="33.9" font-size="6.1" fill="#8a4a9c">Environmental</text>
<text x="152.0" y="168.20" lengthAdjust="spacingAndGlyphs" textLength="42.7" font-size="6.1" fill="#8a4a9c">Financial Services</text>
<text x="63.6" y="179.20" lengthAdjust="spacingAndGlyphs" textLength="60.9" font-size="6.1" fill="#5b7a3c">Constitutional Convention</text>
<text x="67.0" y="193.20" lengthAdjust="spacingAndGlyphs" textLength="50.4" font-size="6.1" fill="#5b7a3c">Separation of Powers</text>
<text x="63.8" y="207.90" lengthAdjust="spacingAndGlyphs" textLength="50.2" font-size="6.1" fill="#5b7a3c">People's Sovereignty</text>
<text x="63.8" y="222.70" lengthAdjust="spacingAndGlyphs" textLength="41.2" font-size="6.1" fill="#5b7a3c">Local Democracy</text>
<text x="63.8" y="237.70" lengthAdjust="spacingAndGlyphs" textLength="41.2" font-size="6.1" fill="#5b7a3c">People's Consent</text>
<text x="58.2" y="251.20" lengthAdjust="spacingAndGlyphs" textLength="92.8" font-size="6.1" fill="#5b7a3c">No Taxation/Spending without Consent</text>
<text x="95.0" y="319.00" lengthAdjust="spacingAndGlyphs" textLength="53.9" font-size="6.1" fill="#3f4f8c">Association Membership</text>
<text x="177.5" y="308.20" lengthAdjust="spacingAndGlyphs" textLength="38.3" font-size="6.1" fill="#3f4f8c">EU Reform Deal</text>
<text x="97.9" y="281.60" lengthAdjust="spacingAndGlyphs" textLength="49.6" font-size="6.1" fill="#3f4f8c">Brexit Paradigm Shift</text>
<text x="83.8" y="297.20" lengthAdjust="spacingAndGlyphs" textLength="52.2" font-size="6.1" fill="#3f4f8c">Referendum Question</text>
<text x="98.6" y="336.00" lengthAdjust="spacingAndGlyphs" textLength="49.2" font-size="6.1" fill="#3f4f8c">Legacy Media's FUD</text>
<text x="99.0" y="351.10" lengthAdjust="spacingAndGlyphs" textLength="46.2" font-size="6.1" fill="#3f4f8c">Cameron's Prestige</text>
<text x="116.8" y="363.80" lengthAdjust="spacingAndGlyphs" textLength="41.2" font-size="6.1" fill="#3f4f8c">Status Quo Effect</text>
<text x="237.0" y="341.90" lengthAdjust="spacingAndGlyphs" textLength="53.9" font-size="6.1" fill="#3f4f8c">Campaign Designation</text>
<text x="213.0" y="361.80" lengthAdjust="spacingAndGlyphs" textLength="58.0" font-size="6.1" fill="#3f4f8c">&quot;eurosceptic aristocracy&quot;</text>
<text x="398.8" y="85.10" lengthAdjust="spacingAndGlyphs" textLength="45.9" font-size="6.1" fill="#7b7a3c">Global Governance</text>
<text x="421.0" y="122.20" lengthAdjust="spacingAndGlyphs" textLength="27.9" font-size="6.1" fill="#7b7a3c">Regulations</text>
<text x="341.0" y="73.20" lengthAdjust="spacingAndGlyphs" textLength="17.0" font-size="6.1" fill="#5b7a3c">UNECE</text>
<text x="266.0" y="58.20" lengthAdjust="spacingAndGlyphs" textLength="46.9" font-size="6.1" fill="#5b7a3c">Community of Equals</text>
<text x="266.6" y="67.30" lengthAdjust="spacingAndGlyphs" textLength="43.1" font-size="6.1" fill="#5b7a3c">Regional Structures</text>
<text x="266.0" y="76.30" lengthAdjust="spacingAndGlyphs" textLength="50.7" font-size="6.1" fill="#5b7a3c">Breaking from Brussels</text>
<text x="265.0" y="83.10" lengthAdjust="spacingAndGlyphs" textLength="45.3" font-size="6.1" fill="#5b7a3c">Hierarchical Solution</text>
<text x="360.0" y="60.10" lengthAdjust="spacingAndGlyphs" textLength="13.6" font-size="6.1" fill="#7b7a3c">OECD</text>
<text x="364.4" y="71.50" lengthAdjust="spacingAndGlyphs" textLength="7.5" font-size="6.1" fill="#7b7a3c">ILO</text>
<text x="352.8" y="92.00" lengthAdjust="spacingAndGlyphs" textLength="11.6" font-size="6.1" fill="#7b7a3c">WTO</text>
<text x="357.6" y="101.40" lengthAdjust="spacingAndGlyphs" textLength="6.8" font-size="6.1" fill="#7b7a3c">UN</text>
<text x="325.0" y="111.20" lengthAdjust="spacingAndGlyphs" textLength="42.5" font-size="6.1" fill="#7b7a3c">Codex Alimentarius</text>
<text x="361.0" y="124.00" lengthAdjust="spacingAndGlyphs" textLength="8.0" font-size="6.1" fill="#7b7a3c">ISO</text>
<text x="460.2" y="74.80" lengthAdjust="spacingAndGlyphs" textLength="28.2" font-size="6.1" fill="#7b7a3c">Systemic adj.</text>
<text x="469.0" y="81.80" lengthAdjust="spacingAndGlyphs" textLength="43.8" font-size="6.1" fill="#7b7a3c">Absorptive Capacity</text>
<text x="471.8" y="91.40" lengthAdjust="spacingAndGlyphs" textLength="29.2" font-size="6.1" fill="#7b7a3c">Convergence</text>
<text x="474.4" y="100.30" lengthAdjust="spacingAndGlyphs" textLength="11.9" font-size="6.1" fill="#7b7a3c">Trade</text>
<text x="470.4" y="110.50" lengthAdjust="spacingAndGlyphs" textLength="29.0" font-size="6.1" fill="#7b7a3c">Replacement</text>
<text x="472.9" y="118.30" lengthAdjust="spacingAndGlyphs" textLength="19.1" font-size="6.1" fill="#7b7a3c">Removal</text>
<text x="468.2" y="126.40" lengthAdjust="spacingAndGlyphs" textLength="31.2" font-size="6.1" fill="#7b7a3c">Improvements</text>
<text x="469.7" y="135.50" lengthAdjust="spacingAndGlyphs" textLength="12.3" font-size="6.1" fill="#7b7a3c">2-Tier</text>
<text x="471.2" y="144.90" lengthAdjust="spacingAndGlyphs" textLength="11.3" font-size="6.1" fill="#7b7a3c">WTO</text>
<text x="476.7" y="157.90" lengthAdjust="spacingAndGlyphs" textLength="33.3" font-size="6.1" fill="#8a573e">Asylum Policy</text>
<text x="529.2" y="175.70" lengthAdjust="spacingAndGlyphs" textLength="53.0" font-size="6.1" fill="#8a573e">Freedom of Movement</text>
<text x="448.0" y="203.20" lengthAdjust="spacingAndGlyphs" textLength="46.3" font-size="6.1" fill="#8a573e">Economic Migration</text>
<text x="548.9" y="126.00" lengthAdjust="spacingAndGlyphs" textLength="30.9" font-size="6.1" fill="#8a573e">British System</text>
<text x="548.9" y="133.90" lengthAdjust="spacingAndGlyphs" textLength="16.6" font-size="6.1" fill="#8a573e">ECHR's</text>
<text x="548.9" y="142.30" lengthAdjust="spacingAndGlyphs" textLength="38.4" font-size="6.1" fill="#8a573e">Dublin Regulation</text>
<text x="549.9" y="151.40" lengthAdjust="spacingAndGlyphs" textLength="23.8" font-size="6.1" fill="#8a573e">EU system</text>
<text x="548.9" y="159.40" lengthAdjust="spacingAndGlyphs" textLength="37.0" font-size="6.1" fill="#8a573e">International Law</text>
<text x="516.0" y="190.30" lengthAdjust="spacingAndGlyphs" textLength="40.0" font-size="6.1" fill="#8a573e">Illegal Immigration</text>
<text x="541.0" y="205.90" lengthAdjust="spacingAndGlyphs" textLength="25.7" font-size="6.1" fill="#8a573e">Pull Factors</text>
<text x="540.0" y="217.20" lengthAdjust="spacingAndGlyphs" textLength="28.6" font-size="6.1" fill="#8a573e">Push Factors</text>
<text x="329.2" y="316.40" lengthAdjust="spacingAndGlyphs" textLength="46.3" font-size="6.1" fill="#3e7a6c">Withdrawal Options</text>
<text x="365.0" y="300.30" lengthAdjust="spacingAndGlyphs" textLength="34.0" font-size="6.1" fill="#3e7a6c">Market Solution</text>
<text x="405.0" y="299.90" lengthAdjust="spacingAndGlyphs" textLength="23.7" font-size="6.1" fill="#3e7a6c">EFTA/EEA</text>
<text x="413.0" y="289.60" lengthAdjust="spacingAndGlyphs" textLength="41.2" font-size="6.1" fill="#3e7a6c">Australian Process</text>
<text x="412.0" y="315.60" lengthAdjust="spacingAndGlyphs" textLength="28.6" font-size="6.1" fill="#3e7a6c">Shadow EEA</text>
<text x="464.0" y="229.50" lengthAdjust="spacingAndGlyphs" textLength="36.2" font-size="6.1" fill="#3e7a6c">Removal of ECJ</text>
<text x="464.0" y="246.40" lengthAdjust="spacingAndGlyphs" textLength="27.3" font-size="6.1" fill="#3e7a6c">Trade Policy</text>
<text x="464.0" y="263.00" lengthAdjust="spacingAndGlyphs" textLength="55.4" font-size="6.1" fill="#3e7a6c">Return Agricultural Policy</text>
<text x="464.2" y="278.90" lengthAdjust="spacingAndGlyphs" textLength="29.8" font-size="6.1" fill="#3e7a6c">Single Market</text>
<text x="465.3" y="293.20" lengthAdjust="spacingAndGlyphs" textLength="41.5" font-size="6.1" fill="#3e7a6c">21% EU legislation</text>
<text x="461.1" y="303.20" lengthAdjust="spacingAndGlyphs" textLength="53.9" font-size="6.1" fill="#3e7a6c">4th Largest Trade Group</text>
<text x="464.2" y="315.60" lengthAdjust="spacingAndGlyphs" textLength="78.1" font-size="6.1" fill="#3e7a6c">Emergency EEA Immigration Break</text>
<text x="464.0" y="327.20" lengthAdjust="spacingAndGlyphs" textLength="64.3" font-size="6.1" fill="#3e7a6c">Global Bodies representation</text>
<text x="464.0" y="340.20" lengthAdjust="spacingAndGlyphs" textLength="64.3" font-size="6.1" fill="#3e7a6c">Return Fisheries Sovereignty</text>
<text x="458.5" y="351.10" lengthAdjust="spacingAndGlyphs" textLength="63.4" font-size="6.1" fill="#3e7a6c">Full collaboration eg Science</text>
<text x="401.7" y="326.90" lengthAdjust="spacingAndGlyphs" textLength="27.9" font-size="6.1" fill="#9a4a4a">WTO Option</text>
<text x="400.8" y="337.70" lengthAdjust="spacingAndGlyphs" textLength="20.9" font-size="6.1" fill="#9a4a4a">Bi-Lateral</text>
<text x="326.9" y="366.00" lengthAdjust="spacingAndGlyphs" textLength="22.1" font-size="6.1" fill="#8a4a9c">Article 50</text>
<text x="355.0" y="345.40" lengthAdjust="spacingAndGlyphs" textLength="37.5" font-size="6.1" fill="#3e7a6c">Negotiation Unit</text>
<text x="366.8" y="355.00" lengthAdjust="spacingAndGlyphs" textLength="44.5" font-size="6.1" fill="#8a4a9c">repatriate full acquis</text>
<text x="501.1" y="361.90" lengthAdjust="spacingAndGlyphs" textLength="17.0" font-size="6.1" fill="#8a4a9c">2 Years</text>
<text x="366.8" y="371.30" lengthAdjust="spacingAndGlyphs" textLength="47.7" font-size="6.1" fill="#8a4a9c">trigger = ff +100 days</text>
<text x="205.0" y="326.87" lengthAdjust="spacingAndGlyphs" textLength="43.2" font-size="6.3" fill="#3f4f8c">REFERENDUM</text>
<text x="177.4" y="199.27" lengthAdjust="spacingAndGlyphs" textLength="60.6" font-size="6.3" fill="#5b7a3c">DOMESTIC REFORM</text>
<text x="241.0" y="135.27" lengthAdjust="spacingAndGlyphs" textLength="92.8" font-size="6.3" fill="#8a4a9c">RESTORING POLICY CONTROL</text>
<text x="320.0" y="146.02" lengthAdjust="spacingAndGlyphs" textLength="79.5" font-size="6.3" fill="#7b7a3c">GENUINE SINGLE MARKET</text>
<text x="194.0" y="81.57" lengthAdjust="spacingAndGlyphs" textLength="46.8" font-size="6.3" fill="#8c4848">GLOBAL TRADE</text>
<text x="411.7" y="188.07" lengthAdjust="spacingAndGlyphs" textLength="34.5" font-size="6.3" fill="#8a573e">MIGRATION</text>
<text x="319.8" y="337.17" lengthAdjust="spacingAndGlyphs" textLength="21.2" font-size="6.3" fill="#3e7a6c">BREXIT</text>
</g>
</svg>
</body></html>
